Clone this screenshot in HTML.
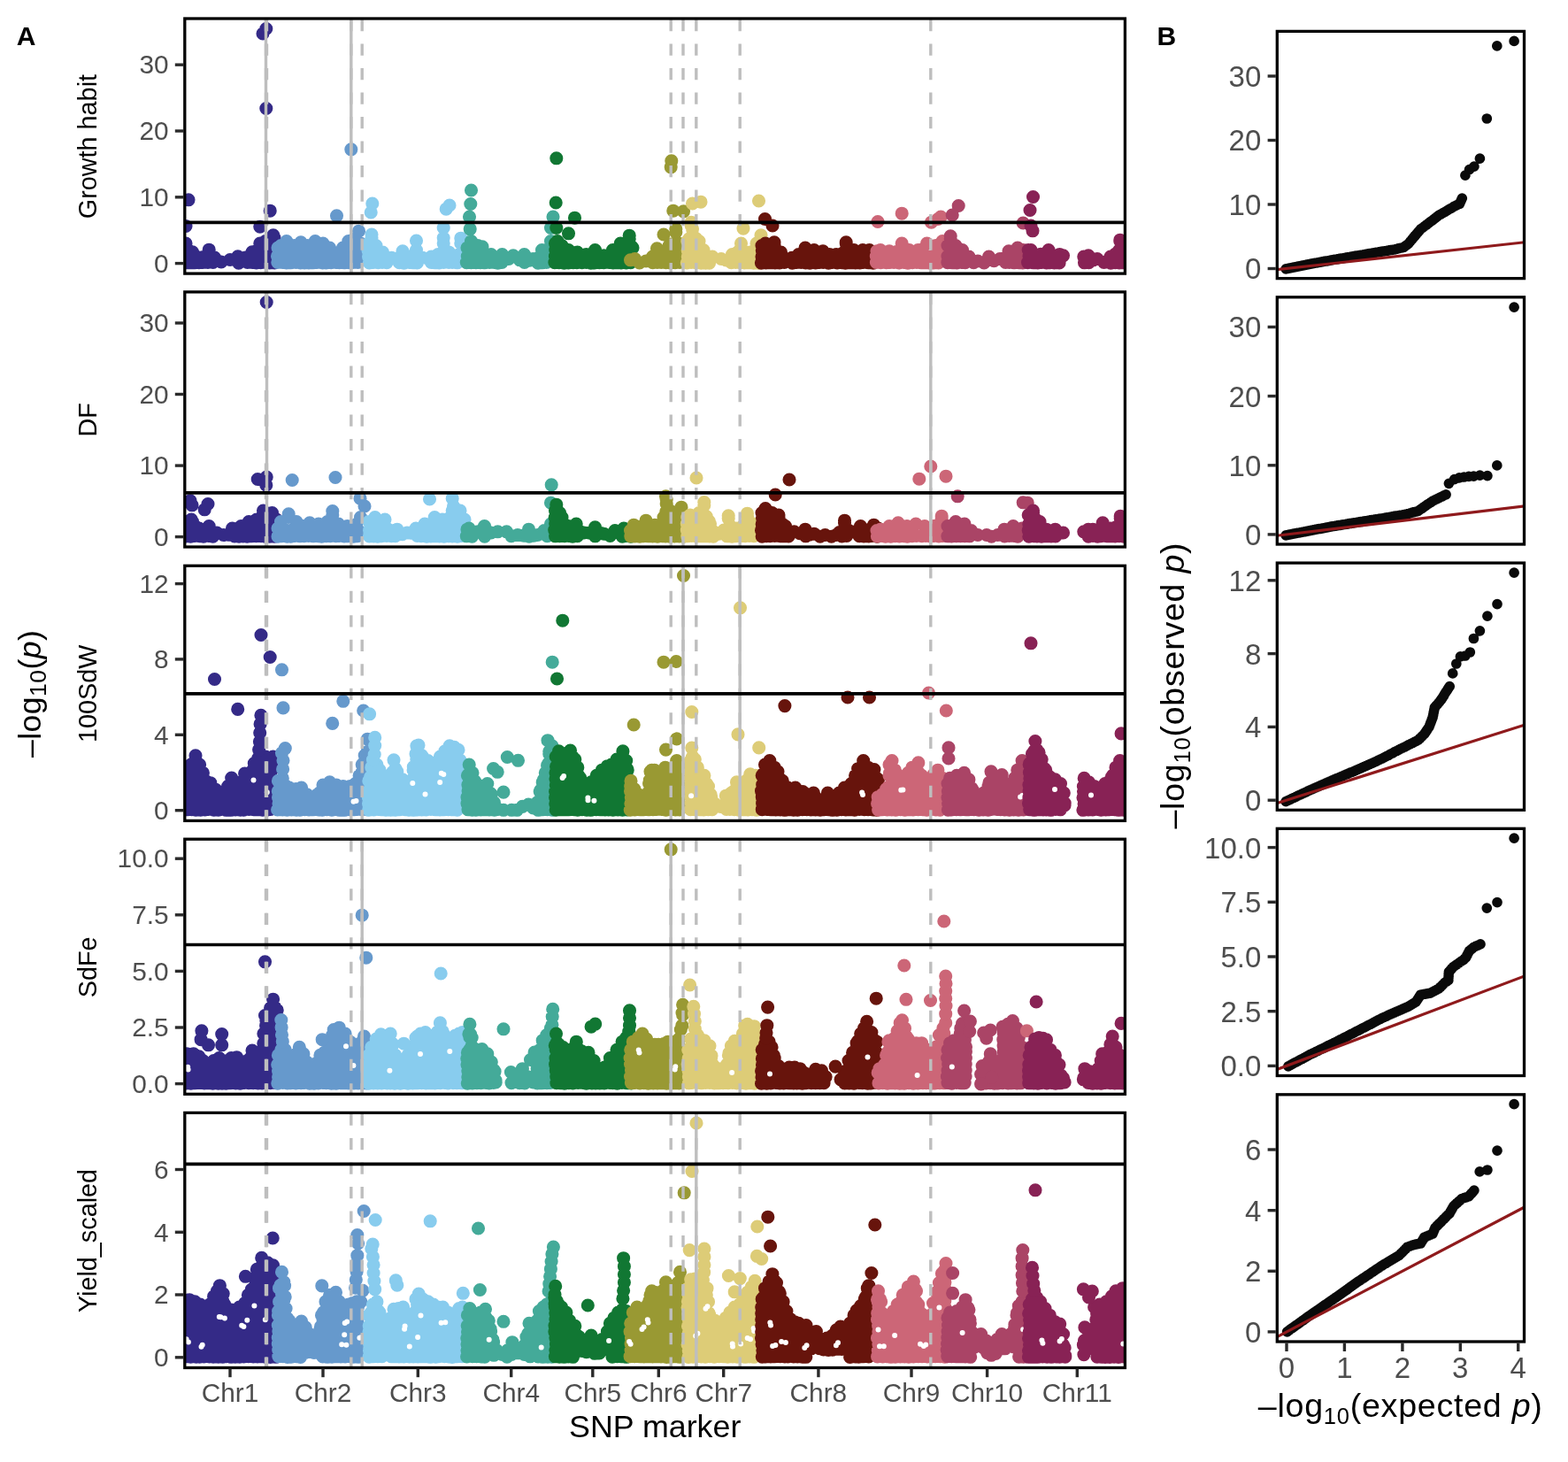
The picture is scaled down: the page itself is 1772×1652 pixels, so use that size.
<!DOCTYPE html>
<html lang="en"><head><meta charset="utf-8"><title>GWAS Manhattan and QQ plots</title>
<style>html,body{margin:0;padding:0;background:#fff}body{width:1772px;height:1652px;overflow:hidden}svg{display:block}text{font-family:"Liberation Sans", sans-serif}.t{font-size:29.8px;fill:#4D4D4D}.u{font-size:33px;fill:#4D4D4D}.s{font-size:28.8px;fill:#000}.a{font-size:35.6px;fill:#000;letter-spacing:.45px}.e{font-size:37.6px;fill:#000;letter-spacing:.75px}.n{font-size:35.8px;fill:#000}.b{font-size:30px;font-weight:bold;fill:#000}.k{stroke:#2b2b2b;stroke-width:3.4}.v{stroke:#BEBEBE;stroke-width:3.4;fill:none}.d{stroke-dasharray:13.3 14.2;stroke-dashoffset:-1}.h{stroke:#000;stroke-width:3.6}.f{fill:none;stroke:#000;stroke-width:3.3}.m{fill:none;stroke-linecap:round;stroke-width:15.1}.q{fill:none;stroke-linecap:round;stroke-width:11.7;stroke:#0a0a0a}
.c0{stroke:#342A87}
.c1{stroke:#6699CC}
.c2{stroke:#88CCEE}
.c3{stroke:#44AA99}
.c4{stroke:#117733}
.c5{stroke:#999933}
.c6{stroke:#DDCC77}
.c7{stroke:#67140C}
.c8{stroke:#CC6677}
.c9{stroke:#AA4466}
.c10{stroke:#882255}
.w{stroke:#fff;stroke-width:6}.r{stroke:#8F1A1C;stroke-width:3.2}
</style></head><body>
<svg width="1772" height="1652" viewBox="0 0 1772 1652">
<rect width="1772" height="1652" fill="#fff"/>
<defs>
<clipPath id="m0"><rect x="208.8" y="21" width="1062.6" height="288.1"/></clipPath>
<clipPath id="q0"><rect x="1443.3" y="35.4" width="279.2" height="279.2"/></clipPath>
<clipPath id="m1"><rect x="208.8" y="329.9" width="1062.6" height="288.1"/></clipPath>
<clipPath id="q1"><rect x="1443.3" y="335.8" width="279.2" height="279.2"/></clipPath>
<clipPath id="m2"><rect x="208.8" y="639.3" width="1062.6" height="288.1"/></clipPath>
<clipPath id="q2"><rect x="1443.3" y="636.1" width="279.2" height="279.2"/></clipPath>
<clipPath id="m3"><rect x="208.8" y="948.2" width="1062.6" height="288.1"/></clipPath>
<clipPath id="q3"><rect x="1443.3" y="936.3" width="279.2" height="279.2"/></clipPath>
<clipPath id="m4"><rect x="208.8" y="1257.4" width="1062.6" height="288.1"/></clipPath>
<clipPath id="q4"><rect x="1443.3" y="1236.8" width="279.2" height="279.2"/></clipPath>
</defs>
<text class="b" x="18.8" y="50.8">A</text>
<text class="b" x="1307.5" y="50.8">B</text>
<g clip-path="url(#m0)">
<g class="m">
<path class="c0" d="M209.5 296.8h0m0.8-7h0m-0.7-7h0m4.7 14h0m1.5-7h0m4.1 7h0m5-0.2h0m4.3-0.2h0m5.7 0.1h0m5.8 0h0m29 0.6h0m10-0.6h0m5.4 0h0m4.6 0.5h0m0-7h0m4.9 6.6h0m0.6-7h0m0.4-7h0m4.1 13.9h0m0.2-7h0m0.1-7h0m4.7 14.4h0m1.1-7h0m-1.6-7h0m6 14.1h0m-0.9-7h0m0.4-7h0m0.8-7h0m-100.5-1h0m4.4 8.9h0m3.1 0.9h0m7.5 6.2h0m4.7-0.5h0m6.5-8.3h0m3.1 7.9h0m3.2 0.9h0m7.5 5h0m10-2.5h0m8.8-3.7h0m8.7 1.2h0m7.5-6.2h0m5.5-1.8h0m3.3-8h0m6.2-2.5h0m5.4 1.2h0m4.6-4.9h0m-9.2-236.3h0m-3.8 5.5h0m3.8 84.5h0m-87.8 103.3h0m92.2 12.4h0m-11.4 18h0m-83.8-0.7h0m98.8 10.3h0"/>
<path class="c1" d="M313.8 296.4h0m-0.3-7h0m5.7 7h0m-0.2-7h0m4.8 7.5h0m-0.1-7h0m0.7-7h0m4.1 13.9h0m1.1-7h0m5 6.7h0m0.1-7h0m4.9 7.5h0m-0.2-7h0m-0.5-7h0m5.2 13.9h0m0-7h0m4.9 7.1h0m0.7-7h0m4.1 6.8h0m0.9-7h0m0.1-7h0m3.5 13.6h0m1.3-7h0m-1.1-7h0m6.1 14.5h0m-1.2-7h0m0-7h0m5.1 14h0m0.2-7h0m5.5 6.7h0m-0.7-7h0m6.2 6.9h0m3.8 0.2h0m5.8 0.1h0m-0.8-7h0m5.7 6.9h0m-0.6-7h0m-0.2-7h0m5.6 13.8h0m-0.1-7h0m0.1-7h0m5.5 14h0m-0.6-7h0m0.5-7h0m-90.4-2.5h0m3.5-2.5h0m6.3-5h0m8.7 5h0m7.5-3.7h0m7.5 3.7h0m8.7-5h0m8.8 2.5h0m7.5 5h0m7.5 6.2h0m7.5-6.2h0m6.3-7.5h0m6.2-2.5h0m7.5 5h0m-10.7-106.2h0m-16.3 75h0m25 17.4h0"/>
<path class="c2" d="M417.3 297h0m-0.8-7h0m-0.5-7h0m5.9 13.4h0m0.2-7h0m-0.9-7h0m6.2 14.3h0m-1.2-7h0m5.7 6.7h0m5.2 0.2h0m14.2 0.1h0m5.2 0.4h0m6-0.7h0m4.4 0.4h0m4.5 0.2h0m15.9-0.5h0m4.3 0.3h0m4.7 0.2h0m5.1-0.5h0m-0.3-7h0m1-7h0m5.2 14h0m3.9 0h0m5.5 0.3h0m-99.9-21.8h0m3.2-6.2h0m5 8.7h0m2.6 7.8h0m4.9-0.3h0m3.9 7.7h0m6.1-1.5h0m7.4 0.7h0m5.1-8.1h0m7.5 6.2h0m4.9 0h0m3.1-7.5h0m2.5 8.2h0m4.5 0.5h0m10-1.2h0m7.5-2.5h0m4.3-1.7h0m1.9-10.8h0m2.5 8.4h0m3.8 1.6h0m7.5 5h0m3.8-2.4h0m2-12.6h0m-100-45h0m-1.6 10h0m88.8-8h0m-3.8 4.2h0m-3 21.3h0m0 11.3h0m-30.7 3.2h0m50.3-2.8h0m-100.8-4.2h0"/>
<path class="c3" d="M527.3 296.6h0m1-7h0m4.2 7.1h0m0.3-7h0m0.6-7h0m4.5 13.9h0m0.4-7h0m4.6 7h0m0.7-7h0m3.9 7.2h0m1.1-7h0m4.7 6.7h0m5.2 0h0m4.1 0.6h0m4.6-0.6h0m25.5-0.1h0m15.3 0.7h0m4.8-0.3h0m-0.4-7h0m5.1 6.6h0m0.4-7h0m-89.9-9.4h0m4.5-7.5h0m7.5 5h0m5 1.3h0m5 8.7h0m5 0h0m6.7 4.2h0m5.8-4.2h0m7.5 5h0m5-3.7h0m7.5 5h0m5-6.3h0m6.1 6.6h0m3.9-1.6h0m5.7-1h0m4.3-9h0m5.8 0h0m4.2-10h0m-90-57.5h0m-0.7 15.5h0m-1.3 14.5h0m0.7 13.8h0m93.8-13.8h0m-2.5 12.5h0"/>
<path class="c4" d="M626.9 296.6h0m0.5-7h0m0.4-7h0m4 14h0m0.6-7h0m0.1-7h0m5 14.5h0m0.7-7h0m4.1 6.9h0m-0.2-7h0m5.7 6.7h0m4.1-0.1h0m5.8 0h0m5-0.2h0m5.1 0.7h0m4-0.2h0m1.1-7h0m4.5 6.8h0m5 0h0m5.9-0.2h0m4.6 0.4h0m0.2-7h0m5 6.9h0m-0.4-7h0m4.2 7.1h0m-0.1-7h0m0.5-7h0m5.4 14h0m-0.1-7h0m0.1-7h0m5 13.7h0m0.6-7h0m-0.8-7h0m-85-7.6h0m2.5-2.5h0m5 5h0m7.5 5h0m10 2.5h0m10 2.5h0m4.8 0h0m5.2-5h0m5.4 6.2h0m4.6 0.1h0m4.6 0.5h0m5.4-6.8h0m4.2-0.2h0m4.5-7.3h0m6.2 0.9h0m3.8-5.9h0m3 9.1h0m0.8 0.9h0m-86.2-101.2h0m-0.6 50.2h0m21.3 17.2h0m-20.7 11.3h0m13.7 6.3h0m68.7 2.4h0"/>
<path class="c5" d="M737.7 296.7h0m5.1-0.3h0m0.2-7h0m4.3 7.1h0m5.3 0.1h0m4.9 0.3h0m0.7-7h0m-0.3-7h0m5.1 13.8h0m-0.8-7h0m-0.2-7h0m1.1-7h0m5 20.7h0m-0.7-7h0m0.6-7h0m-55.5 11.4h0m5-1.3h0m5.2 4.4h0m7.3-1.9h0m7.5-5h0m5-6.2h0m7.5 6.2h0m2.5-1.7h0m3.7-10.8h0m3.3-1.8h0m4.3-13.2h0m3.7 12.7h0m2.5 2.3h0m-11.2-95.7h0m-0.6 7h0m2.6 49.4h0m11.7 0.6h0m-8.7 20h0m-13.8 6.2h0m-7.5 15.8h0"/>
<path class="c6" d="M776.3 297h0m1-7h0m-0.1-7h0m3.9 13.5h0m0-7h0m1.1-7h0m0.1-7h0m-1-7h0m4.8 28.1h0m0.5-7h0m-0.2-7h0m1.1-7h0m4.9 21.5h0m-0.6-7h0m5.7 7h0m4.1 0h0m24.9-0.5h0m5-0.2h0m4.5 0.2h0m0.7-7h0m-0.7-7h0m5.4 14.3h0m0.7-7h0m5 6.9h0m4.7 0.3h0m-0.5-7h0m5.8 7h0m-0.4-7h0m-0.5-7h0m-79.4-10.6h0m2.2-2.8h0m2.2-14.7h0m5.4 14.6h0m3.4 2.9h0m1.5 8.1h0m3.5 1.9h0m4.3 7.2h0m5.7 0.3h0m10 2.5h0m5.6 1.5h0m6.9-6.5h0m5-1.6h0m5-10.9h0m4.3 10.1h0m5.7-0.1h0m3.9-1.2h0m3.6-8.8h0m5-6.2h0m-68-40.6h0m-9.5 1.8h0m75-3h0m-76.3 24.2h0m1.3 7.6h0m57.5-0.6h0m20 7.6h0"/>
<path class="c7" d="M860.4 297.1h0m0.6-7h0m0.3-7h0m4.3 13.8h0m0-7h0m-0.3-7h0m5.9 13.9h0m0-7h0m4.7 7.1h0m-0.4-7h0m5.4 7h0m5.4-0.4h0m9 0.6h0m5-0.6h0m5.1-0.1h0m5.1 0.5h0m0.4-7h0m4.3 7.2h0m0.6-7h0m5.8 6.9h0m-0.7-7h0m5.2 6.5h0m4.2 0h0m6 0.6h0m4.4-0.7h0m5.4 0.5h0m5.3-0.2h0m4 0.4h0m0.3-7h0m-0.1-7h0m5.4 13.7h0m0.5-7h0m5.2 7.2h0m-0.1-7h0m5.1 6.9h0m3.7-0.4h0m0.5-7h0m5.7 7.3h0m-0.1-7h0m5.3 7.3h0m-125.8-19.6h0m4-2.5h0m10 1.2h0m4.2 7.8h0m3.3 1h0m5.5 7.9h0m7-1.7h0m7.5-3.7h0m3.5-0.9h0m4-6.6h0m10 2.5h0m10 1.3h0m7.5 3.7h0m7.5 0h0m6.2-0.7h0m5-11.8h0m4.6 7.7h0m4.2-0.2h0m10 0h0m7.5 0h0m7.5 2.5h0m-125.5-37.5h0m8.5 7.5h0m2 18.8h0m81.2 0h0"/>
<path class="c8" d="M990.4 296.5h0m-0.1-7h0m5.1 7.2h0m0.5-7h0m5.7 7h0m4.3-0.2h0m4.3 0h0m0.5-7h0m5.3 7.5h0m0.6-7h0m4.9 6.4h0m-0.4-7h0m4.9 7.7h0m0.3-7h0m4.8 6.6h0m5-0.2h0m-0.5-7h0m5.4 7.3h0m-0.7-7h0m5.7 7h0m0.5-7h0m4.7 7.3h0m0.4-7h0m3.7 6.9h0m0.7-7h0m4.6 6.9h0m0.5-7h0m0.4-7h0m-70.5 0.9h0m4-1.3h0m10 1.3h0m8.1 0.8h0m6.1-9.6h0m4.6 7.2h0m3.7 0.3h0m10 0h0m4.7-0.4h0m5.3-7.1h0m10 2.5h0m7.5-5h0m-73-22h0m27.2-9.3h0m33.3 10h0m10.7-6.2h0m-3.2 2.5h0"/>
<path class="c9" d="M1070.9 296.6h0m0.1-7h0m5.2 7.2h0m-0.1-7h0m-0.6-7h0m5.9 14.1h0m-0.1-7h0m5.4 6.6h0m-1.1-7h0m5.2 7.2h0m45.6-0.3h0m4.2 0.1h0m5.5 0.3h0m-0.9-7h0m6.2 6.9h0m-0.6-7h0m4.9 7.2h0m-0.1-7h0m-84.6-12.4h0m3.2-7.5h0m5.8 7.5h0m7.5 5h0m4.4 7.6h0m3.1-0.1h0m5.3 6.7h0m4.7-1.7h0m7.1 1.9h0m5.4-6.9h0m5.8 4.7h0m6.7-2.2h0m4.2-0.5h0m5.8-8.2h0m5.4 0.5h0m4.6-4.3h0m6.2 2.5h0m-73-50h0m-7 10.5h0m-2 23.8h0m82-14.8h0"/>
<path class="c10" d="M1161.5 296.6h0m1.5-7h0m4.8 7.2h0m-1.1-7h0m6.1 7.1h0m4.5-0.5h0m5.4 0.6h0m4.1-0.3h0m4.7 0.2h0m5.6 0.1h0m-34.9-14.5h0m2.8 0h0m11.2 4.8h0m8.8-4.8h0m6.4 6.5h0m6.1-1.5h0m4 1.3h0m24 8h0m5-0.2h0m24.8 0.5h0m5.1-0.4h0m4.6 0.3h0m0.5-7h0m-0.9-7h0m5.1 13.8h0m0.5-7h0m-1.1-7h0m-44.3 7.2h0m5.2-1.2h0m5.5 5.2h0m4.5-1.5h0m7.6 3.9h0m7.4-6.4h0m5.2-2.7h0m5.6-14.8h0m5.4 0h0m-103.7-50h0m-3.5 15h0m3 23.3h0m-2-5.8h0m100.8 16.2h0"/>
</g>
<line class="v d" x1="300.5" x2="300.5" y1="21" y2="309.1"/>
<line class="v d" x1="301.5" x2="301.5" y1="21" y2="309.1"/>
<line class="v d" x1="396.8" x2="396.8" y1="21" y2="309.1"/>
<line class="v d" x1="409.2" x2="409.2" y1="21" y2="309.1"/>
<line class="v d" x1="758.2" x2="758.2" y1="21" y2="309.1"/>
<line class="v d" x1="772" x2="772" y1="21" y2="309.1"/>
<line class="v d" x1="786.8" x2="786.8" y1="21" y2="309.1"/>
<line class="v d" x1="836.2" x2="836.2" y1="21" y2="309.1"/>
<line class="v d" x1="1051.8" x2="1051.8" y1="21" y2="309.1"/>
<line class="v" x1="300.5" x2="300.5" y1="21" y2="309.1"/>
<line class="v" x1="396.8" x2="396.8" y1="21" y2="309.1"/>
<line class="h" x1="208.8" x2="1271.4" y1="251.4" y2="251.4"/>
</g>
<rect class="f" x="208.8" y="21" width="1062.6" height="288.1"/>
<line class="k" x1="197.8" x2="207.3" y1="297.6" y2="297.6"/>
<text class="t" text-anchor="end" x="190.6" y="307.8">0</text>
<line class="k" x1="197.8" x2="207.3" y1="222.8" y2="222.8"/>
<text class="t" text-anchor="end" x="190.6" y="233">10</text>
<line class="k" x1="197.8" x2="207.3" y1="148" y2="148"/>
<text class="t" text-anchor="end" x="190.6" y="158.2">20</text>
<line class="k" x1="197.8" x2="207.3" y1="73.2" y2="73.2"/>
<text class="t" text-anchor="end" x="190.6" y="83.4">30</text>
<text class="s" text-anchor="middle" transform="translate(108.8 165.6) rotate(-90)">Growth habit</text>
<g clip-path="url(#m1)">
<g class="m">
<path class="c0" d="M210.1 605.9h0m0.1-7h0m5.2 7.3h0m-0.1-7h0m5 6.3h0m5.1 0.2h0m4.6 0.4h0m5.7-0.6h0m4.9 0.7h0m24.5-0.2h0m5 0.2h0m4.6-0.3h0m4.6 0.2h0m1.3-7h0m3.6 6.7h0m0.9-7h0m4.4 6.8h0m1.2-7h0m4.4 7h0m0.7-7h0m-1.3-7h0m5.3 14.6h0m-0.3-7h0m1.2-7h0m4.1 14h0m0.8-7h0m-1.3-7h0m5.7 14h0m-0.2-7h0m-0.6-7h0m-99.2-2.7h0m7.5 0h0m4.5 6.2h0m3 1.3h0m6.2 3h0m5-5.5h0m3.4 8.1h0m5.4-0.6h0m7.5 2.5h0m5.7-0.2h0m4.3-7.3h0m10-2.5h0m8.7-5h0m8.8-2.5h0m3.4-0.1h0m4.1-7.4h0m10 2.5h0m5 5h0m-11.3-245.5h0m-10 200h0m10-2.5h0m-0.4 9.2h0m-85.8 17.6h0m2 5h0m18-1.3h0m-3.8 6.3h0m66.3 1.2h0m10 2.5h0m-91.3 7.5h0"/>
<path class="c1" d="M314 606.2h0m4.6-0.5h0m0.9-7h0m5.1 7.5h0m-1-7h0m4.9 7h0m0.6-7h0m4.3 6.3h0m0.8-7h0m4.8 7.3h0m4.6-0.2h0m5.1-0.1h0m0.1-7h0m5.3 7.3h0m5.4-0.1h0m0.2-7h0m3.8 7.4h0m0.9-7h0m4.2 6.5h0m1-7h0m3.7 7h0m0.1-7h0m0-7h0m6.2 14h0m-1-7h0m4.9 6.9h0m5.5 0.4h0m4.4-0.1h0m6.2 0.4h0m4.4-0.6h0m0.3-7h0m-90.3-1.6h0m3.5-7.5h0m8.7-5h0m8.8 5h0m7.5 5h0m7.5-3.7h0m10 1.2h0m10-2.5h0m5.8-7.5h0m3.7 9.3h0m3 0.7h0m10 2.5h0m7.5 0h0m2.7-2h0m4.8-8h0m-77.3-42h0m48.8-3h0m28 23.7h0m5 8.8h0m-36.2 5.5h0m-49.6 3.3h0"/>
<path class="c2" d="M417.4 606h0m0.1-7h0m4.9 6.9h0m-0.8-7h0m5.2 7.2h0m0.6-7h0m3.9 6.6h0m-0.2-7h0m5.9 6.8h0m-0.1-7h0m5.5 7.2h0m4.3-0.1h0m24.9-0.1h0m4.4 0.1h0m6.3 0.6h0m-0.5-7h0m5.1 6.8h0m-0.4-7h0m5.9 6.8h0m-0.6-7h0m0.3-7h0m4.5 14.1h0m0.3-7h0m4.9 7.2h0m0.6-7h0m4.1 6.6h0m-0.4-7h0m-0.1-7h0m5.3 14.2h0m0.3-7h0m-0.3-7h0m0.8-7h0m4.9 21.3h0m-0.4-7h0m0.5-7h0m4.6 13.3h0m-0.6-7h0m0.6-7h0m-104.9-2h0m7-5h0m6.3 3.9h0m4.9-1.4h0m3.1 10.9h0m4.4 1.6h0m6.3-1.3h0m5.9 5.4h0m5.3-1.6h0m4.1 0.1h0m5.9-5.1h0m4.5 1.2h0m5.5-6.2h0m5.5 0.5h0m5.7-8h0m8.8 2.5h0m6.6-0.7h0m4.6-9.3h0m8.8 5h0m5 5h0m-39.5-23h0m25.7-0.8h0m1.3 8.8h0m7.5 5h0"/>
<path class="c3" d="M527.3 605.8h0m6.2 0.3h0m14.2 0h0m50.3 0.1h0m20.4-0.6h0m-90.4-7.4h0m2-1.2h0m5.9 5.2h0m4.1-1.4h0m7.5-6.3h0m4 6.2h0m3.5 1.3h0m7.5-1.2h0m10 0h0m5.3 4.8h0m7.2-1.1h0m6.8 0.6h0m5.7-6.9h0m5.9 7h0m4.1-0.7h0m7.5-5h0m2.7 0.6h0m4.8-8.1h0m0.7-44.2h0m-0.7 20.4h0"/>
<path class="c4" d="M627.6 605.8h0m-0.9-7h0m1-7h0m-0.5-7h0m5.2 20.8h0m-0.7-7h0m0.9-7h0m5.3 14.1h0m0.3-7h0m4.2 6.8h0m4.7 0.7h0m5.4-0.5h0m20.1 0.1h0m30.7 0.3h0m4.3-0.6h0m5.2 0.7h0m-85.3-29.2h0m1.3-3.8h0m2.6 10.1h0m3.6 1.2h0m4 8.7h0m3.5 1.3h0m8.7-2.5h0m3.3 8.1h0m5.5 1.9h0m6.6 0.1h0m5.9-6.3h0m5.9 6.6h0m4.1 0.8h0m7 2.2h0m5.5-5.9h0m10-2.5h0m7.5 2.5h0m-83.7-29.3h0m3.7 9.3h0"/>
<path class="c5" d="M712.8 605.8h0m4.6 0.1h0m5.5 0.2h0m4.5-0.5h0m-0.6-7h0m5.6 7.2h0m0.9-7h0m4.2 7.1h0m5.6 0.2h0m-1.3-7h0m6.4 6.5h0m-0.8-7h0m4.7 7.4h0m-0.3-7h0m1.1-7h0m-0.9-7h0m0.8-7h0m4.3 28.1h0m0.3-7h0m0.4-7h0m0.2-7h0m4.2 20.8h0m1-7h0m-0.1-7h0m4.5 14.1h0m-0.8-7h0m0-7h0m1.4-7h0m4 21.2h0m-0.2-7h0m-0.3-7h0m-59.2 7.3h0m3.7-6.3h0m5.9 2.3h0m7.9-7.3h0m5.2 6.5h0m4.8-1.5h0m5.7 0.5h0m4.3-9.2h0m2.8-4.1h0m0.4-15.9h0m4 12.5h0m2.8 2.5h0m10-2.5h0m3.8 7.5h0m-21.3-23.7h0m0.7 8.7h0m16.8 3.7h0"/>
<path class="c6" d="M776.8 605.8h0m-0.5-7h0m0-7h0m5.3 13.7h0m-0.5-7h0m0.1-7h0m5.9 14.5h0m-0.8-7h0m-0.2-7h0m5.7 13.8h0m0.3-7h0m0.2-7h0m0-7h0m4.8 21h0m0-7h0m-0.1-7h0m-1-7h0m5.8 21.1h0m0.5-7h0m3.9 7.3h0m15.4-0.4h0m0.2-7h0m5.4 7.4h0m-0.6-7h0m4.5 6.6h0m5.9-0.2h0m5.1 0.1h0m-0.3-7h0m4.9 6.8h0m-0.2-7h0m5.5 7.1h0m0-7h0m-75.2-14.1h0m3.2-2.5h0m10-2.5h0m5.8-8.7h0m2.4 12.7h0m3.2 5.6h0m1.1 2.9h0m4.4 9h0m5.6 2.2h0m5.6-4.1h0m5.1-13.3h0m3.9 10.1h0m5.4 1.1h0m7-2.6h0m5-11.2h0m5.2 8.4h0m5.3 0.4h0m-68-52h0m8.8 27.5h0m27.4 15.3h0m21.3-2.6h0"/>
<path class="c7" d="M861.2 606.2h0m-0.7-7h0m0.7-7h0m0.3-7h0m4.7 20.4h0m-0.5-7h0m0.8-7h0m-1.1-7h0m4.9 21h0m1.3-7h0m-0.3-7h0m4.2 13.9h0m1-7h0m-0.7-7h0m5.7 14.1h0m-0.8-7h0m4.9 7.2h0m5.5 0.2h0m19.5-0.2h0m40.8 0.2h0m5.4-0.5h0m14.4 0.2h0m5 0.3h0m5.5 0h0m3.7-0.5h0m5.9 0.7h0m-130.3-26.7h0m4-2.5h0m7.5 2.5h0m7.5 5h0m4.3 7.9h0m3.2 2.1h0m4.2 7.4h0m5.8-1.1h0m6.4 1.9h0m6.1-4.5h0m4.6 5.9h0m5.4-0.9h0m6.8 3h0m5.7-1.7h0m7.1 1.7h0m5.4-1.7h0m3.6-2.9h0m5.9-10.8h0m4.9 8.7h0m3.1 1.3h0m5.3 0.3h0m4.7-6.6h0m7.6 4.6h0m7.4-5.9h0m5 3.8h0m-100.5-55h0m-15.8 17h0m-11.2 15.5h0m15 7.5h0m74.5 6.2h0"/>
<path class="c8" d="M991.4 606h0m5.3-0.5h0m4 0.6h0m5.9 0h0m4.9-0.5h0m4.9 0.3h0m0-7h0m4.9 6.8h0m4.1 0.4h0m5.3-0.5h0m4.9-0.1h0m6.2 0.1h0m4.5-0.1h0m5.1 0.4h0m4.2-0.4h0m5.4 0.4h0m0.1-7h0m4.5 6.6h0m0.5-7h0m-75.1 1h0m4-1.3h0m5.1 1.8h0m4.9-5.5h0m3.9 2.1h0m6.1-5.8h0m5.1 5.7h0m4.9-2h0m10-2.5h0m10 2.5h0m10 0h0m4.9-1.1h0m4.3-7.6h0m5.8 8.7h0m-31.2-53.3h0m13-14.2h0m17.2 11.2h0m-4.8 45h0"/>
<path class="c9" d="M1070.9 605.8h0m4.4 0.1h0m5.4-0.2h0m0.3-7h0m4.5 6.9h0m4.8 0.1h0m5.4 0.1h0m39.6 0.2h0m5.2-0.5h0m5.5 0h0m4.2 0.6h0m-79.2-11.6h0m9-5h0m10 2.5h0m3.1 6.1h0m4.4 1.4h0m7.5 5h0m10 0h0m5.5 1.7h0m7-1.7h0m7.5-6.3h0m4.1 2.2h0m5.9-5.9h0m10 2.5h0m-72.8-36.2h0m74 7h0m5 0.4h0"/>
<path class="c10" d="M1162.8 606.2h0m-0.6-7h0m0.6-7h0m5.2 13.5h0m-0.3-7h0m-0.5-7h0m4.8 14.3h0m0.9-7h0m4.1 7.1h0m5.6-0.3h0m5.3 0.2h0m4.9-0.1h0m-30.6-23.9h0m5.3-2.5h0m4.5 8.6h0m3 1.4h0m3.5 8.3h0m4 0.4h0m10 0h0m9 3.8h0m28.5 4.1h0m5.2-0.6h0m5.2 0.7h0m3.9-0.6h0m0.7-7h0m5.5 7.1h0m4.1 0.1h0m5.6 0.2h0m4.5-0.3h0m0.2-7h0m5.4 7.4h0m-0.8-7h0m-44.7 1.7h0m5.2-2.6h0m5 0h0m5.2 0.3h0m6-7.7h0m5.5 6.4h0m3.3-0.2h0m6.1-1.1h0m5.1-10.1h0m5 0h0m-103.7-8.8h0m98.7 6.2h0"/>
</g>
<line class="v d" x1="300.5" x2="300.5" y1="329.9" y2="618"/>
<line class="v d" x1="301.5" x2="301.5" y1="329.9" y2="618"/>
<line class="v d" x1="396.8" x2="396.8" y1="329.9" y2="618"/>
<line class="v d" x1="409.2" x2="409.2" y1="329.9" y2="618"/>
<line class="v d" x1="758.2" x2="758.2" y1="329.9" y2="618"/>
<line class="v d" x1="772" x2="772" y1="329.9" y2="618"/>
<line class="v d" x1="786.8" x2="786.8" y1="329.9" y2="618"/>
<line class="v d" x1="836.2" x2="836.2" y1="329.9" y2="618"/>
<line class="v d" x1="1051.8" x2="1051.8" y1="329.9" y2="618"/>
<line class="v" x1="301.5" x2="301.5" y1="329.9" y2="618"/>
<line class="v" x1="1051.8" x2="1051.8" y1="329.9" y2="618"/>
<line class="h" x1="208.8" x2="1271.4" y1="556.9" y2="556.9"/>
</g>
<rect class="f" x="208.8" y="329.9" width="1062.6" height="288.1"/>
<line class="k" x1="197.8" x2="207.3" y1="606.6" y2="606.6"/>
<text class="t" text-anchor="end" x="190.6" y="616.9">0</text>
<line class="k" x1="197.8" x2="207.3" y1="526.1" y2="526.1"/>
<text class="t" text-anchor="end" x="190.6" y="536.3">10</text>
<line class="k" x1="197.8" x2="207.3" y1="445.5" y2="445.5"/>
<text class="t" text-anchor="end" x="190.6" y="455.7">20</text>
<line class="k" x1="197.8" x2="207.3" y1="365" y2="365"/>
<text class="t" text-anchor="end" x="190.6" y="375.2">30</text>
<text class="s" text-anchor="middle" transform="translate(108.8 474.4) rotate(-90)">DF</text>
<g clip-path="url(#m2)">
<g class="m">
<path class="c0" d="M211.5 914.8h0m-0.9-7h0m0.4-7h0m0.3-7h0m0.5-7h0m-1.1-7h0m6 34.8h0m-0.6-7h0m0.1-7h0m0.6-7h0m-0.8-7h0m-0.2-7h0m0.8-7h0m4.8 42.6h0m-0.1-7h0m-0.4-7h0m0.9-7h0m-0.5-7h0m-0.8-7h0m0.5-7h0m0.8-7h0m4.8 49h0m-0.4-7h0m0.4-7h0m0.2-7h0m-1.4-7h0m0.6-7h0m0.1-7h0m5.5 41.7h0m-1.2-7h0m0.2-7h0m0.9-7h0m0.1-7h0m3.8 27.6h0m1.2-7h0m-1.3-7h0m1.3-7h0m5.2 21.6h0m-0.5-7h0m-0.2-7h0m5.6 14.1h0m-0.8-7h0m4.4 6.3h0m0.7-7h0m4.7 7.8h0m1.1-7h0m-1-7h0m5.1 14h0m0.5-7h0m0-7h0m0.2-7h0m-1.1-7h0m5.5 27.6h0m0-7h0m0.3-7h0m5.4 14.3h0m-0.1-7h0m-0.4-7h0m4.1 13.9h0m0.9-7h0m0.6-7h0m0-7h0m-0.2-7h0m4.8 27.4h0m-0.6-7h0m0.7-7h0m0-7h0m-0.1-7h0m5.2 28.2h0m0.2-7h0m-0.9-7h0m0.8-7h0m-1.3-7h0m1-7h0m4.4 35.1h0m0.4-7h0m-0.3-7h0m0.6-7h0m-0.2-7h0m0.1-7h0m0.2-7h0m-0.9-7h0m6 49.4h0m-0.1-7h0m-0.9-7h0m-0.1-7h0m1-7h0m-1-7h0m0.3-7h0m-0.2-7h0m5.6 49h0m0.2-7h0m-0.5-7h0m0.4-7h0m-0.6-7h0m-0.2-7h0m0.5-7h0m-0.6-7h0m5.2 48.3h0m0.9-7h0m-0.7-7h0m0.3-7h0m-0.5-7h0m0-7h0m0.3-7h0m0-7h0m-94.9 3.2h0m4.6-4.6h0m2.7-1.7h0m2.6-8.6h0m1.6 7.9h0m3 2.4h0m3.8 9.2h0m4.1 10.1h0m4.3 1.3h0m6.1 7.6h0m5.3 8.4h0m4.6-4.6h0m3.8-7.6h0m4.1-9.4h0m2.4 10.5h0m1.8 2h0m4.6 3h0m1.4-3.2h0m1.7-9h0m3-8.4h0m5.3 6.9h0m1.3-1.3h0m2.6-9.4h0m1.5-7.6h0m4.6-6.1h0m4.5-1.5h0m3.8 0h0m8.4 0h0m0.6 9.9h0m0.9 2.3h0"/>
<path class="w" d="M301.8 895.2h0m-15.3-13.7h0"/>
<path class="c0" d="M268.7 801.4h0m26.2 6.9h0m-0.8 9.9h0m-0.4 9.9h0m-0.3 9.9h0m-0.8 9.1h0m2.4-129.6h0m10.2 25h0m-62.7 25h0"/>
<path class="c1" d="M313.6 915h0m1.4-7h0m-0.5-7h0m-0.2-7h0m5 20.9h0m0.6-7h0m-0.2-7h0m-0.4-7h0m-0.3-7h0m5.4 28.3h0m0.5-7h0m-1.2-7h0m5.7 13.7h0m-0.1-7h0m-0.6-7h0m6.3 14.3h0m-1.3-7h0m0.6-7h0m4.7 14h0m0.8-7h0m-0.3-7h0m4.9 13.4h0m-0.6-7h0m5.3 7.3h0m4.9-0.1h0m6.1 0.2h0m-1.2-7h0m5.3 7.2h0m-0.6-7h0m1.1-7h0m4.7 13.4h0m-0.5-7h0m0.6-7h0m0.2-7h0m5.3 21.6h0m-0.1-7h0m-0.4-7h0m0.1-7h0m4.1 20.3h0m0.5-7h0m0-7h0m-0.3-7h0m4.9 21.8h0m1.4-7h0m0-7h0m4.1 14h0m0.6-7h0m0.2-7h0m4.7 13.4h0m-1-7h0m0.5-7h0m5.7 14.1h0m-1.2-7h0m1.2-7h0m-1.3-7h0m5.2 20.7h0m0.1-7h0m-0.1-7h0m0.6-7h0m4.3 21.1h0m0.4-7h0m0.9-7h0m-0.5-7h0m0.3-7h0m0.1-7h0m-0.9-7h0m5.6 42h0m0.2-7h0m-0.9-7h0m0.6-7h0m-1-7h0m0.3-7h0m-0.3-7h0m1.2-7h0m-1-7h0m0.2-7h0m-99.6 30.8h0m4.9-3h0m3.1 8.3h0m4.5 2.3h0m7.6 1.6h0m6.1-1.6h0m6.1 7.7h0m4.5 7.6h0m3.1 0h0m4.6-7.6h0m2.3-1.8h0m3.8-8.9h0m7.6-3.1h0m7.6 3.1h0m7.6 1.5h0m7.7 0h0m6.1-3h0m4.5-9.2h0m2.6-1.9h0m0.5-10.3h0m1.6-1.7h0m1.4-8.9h0m2.7-3.6h0m0.4-14.7h0"/>
<path class="w" d="M399.5 905.7h0m3-0.8h0"/>
<path class="c1" d="M320 799.9h0m55.7 17.5h0m12.1-25.1h0m22.9 10.7h0m-88.4 42.6h0m-3.8 5.3h0m1.5 8.4h0m-0.4 9.9h0m-1.1-112.4h0"/>
<path class="c2" d="M416.7 915.1h0m-0.2-7h0m-0.2-7h0m-0.1-7h0m6.3 20.8h0m0-7h0m-1.3-7h0m-0.2-7h0m1.1-7h0m0.3-7h0m4.8 34.6h0m0.3-7h0m0.1-7h0m-0.8-7h0m-0.4-7h0m0.7-7h0m3.9 35.3h0m0.3-7h0m0.4-7h0m-0.2-7h0m-0.1-7h0m4.7 28.4h0m0.7-7h0m0.5-7h0m4.2 14h0m0.3-7h0m-0.7-7h0m0.6-7h0m5.1 20.9h0m0.7-7h0m-1.5-7h0m0.9-7h0m-0.7-7h0m0.5-7h0m4.5 34.7h0m0.9-7h0m-0.1-7h0m-1-7h0m0.2-7h0m6.4 27.8h0m-1.1-7h0m-0.2-7h0m0.9-7h0m4.9 21.5h0m0.1-7h0m0.2-7h0m0.2-7h0m4.7 21.2h0m-0.4-7h0m0.3-7h0m-0.3-7h0m0.5-7h0m-0.8-7h0m5 34.7h0m0.3-7h0m0.4-7h0m-0.9-7h0m0.9-7h0m-0.9-7h0m-0.3-7h0m1.3-7h0m0-7h0m4.2 55.9h0m-0.1-7h0m0.6-7h0m0.1-7h0m0.2-7h0m0.2-7h0m-0.5-7h0m0-7h0m4.4 49h0m0.6-7h0m-0.3-7h0m0-7h0m0.4-7h0m-0.6-7h0m0.9-7h0m-0.9-7h0m5.4 48.6h0m-0.5-7h0m0-7h0m0.1-7h0m0.5-7h0m0.2-7h0m-0.1-7h0m5 42.3h0m-0.8-7h0m0.1-7h0m0.3-7h0m-0.4-7h0m0.2-7h0m0.9-7h0m4.7 42.1h0m0.1-7h0m-0.1-7h0m-0.4-7h0m-0.3-7h0m0-7h0m0.6-7h0m-0.9-7h0m5.4 48.9h0m-0.1-7h0m-0.2-7h0m1.2-7h0m-0.2-7h0m-0.8-7h0m1.1-7h0m-1.5-7h0m0.3-7h0m5.2 55.9h0m0.9-7h0m-0.6-7h0m-0.7-7h0m0.4-7h0m0.5-7h0m-0.6-7h0m-0.5-7h0m1.4-7h0m-1.2-7h0m4.8 63.1h0m1.6-7h0m-0.2-7h0m0.1-7h0m-0.1-7h0m-1.1-7h0m0.6-7h0m0.4-7h0m-0.9-7h0m0-7h0m5.3 63.4h0m0.7-7h0m-1.4-7h0m0.9-7h0m0.2-7h0m-0.6-7h0m0.8-7h0m0-7h0m0-7h0m-100.5 23.2h0m1.6-4h0m1.4-11.2h0m6.1-3.1h0m3.1 6.1h0m3 7.7h0m1.9 9.7h0m2.7 0.9h0m3.8 1.5h0m2.3-3.4h0m0-10.3h0m0.9-3.8h0m1.4-13.7h0m1.9 9.7h0m1.9 3.3h0m2 8.4h0m4.1 0.7h0m4.6 7.6h0m4.5-3h0m0.9-3.6h0m2.2-11.7h0m0.2-3.6h0m3.5-8.7h0m0.1-15.1h0m-0.9 9.1h0m3-9.9h0m3.5 11.5h0m1.1 1.5h0m6.1 4.6h0m6.1 3h0m5-1h0m2.6-6.6h0m5.4-6.1h0m5.3-6.1h0m5.3 1.5h0m4.6 3.1h0m2 11.7h0m0.3 3.5h0"/>
<path class="w" d="M501.3 874.9h0m-2.5-1.2h0m-18.3 23.8h0m16.7-13.5h0m-30.9 0.9h0"/>
<path class="c2" d="M417.6 806.8h0m6.1 26.6h0m0 9.2h0m-0.5 9.9h0m-1.8 6.1h0"/>
<path class="c3" d="M529 914.8h0m-1-7h0m0-7h0m1.1-7h0m-0.2-7h0m4.7 28.4h0m0.4-7h0m-0.3-7h0m-0.9-7h0m0.5-7h0m0.5-7h0m4 34.9h0m1.1-7h0m-0.9-7h0m0.5-7h0m4.9 20.9h0m-0.8-7h0m0.7-7h0m4.9 13.8h0m0.1-7h0m0-7h0m0.5-7h0m4.1 21.2h0m1-7h0m-0.5-7h0m5.3 14.2h0m49.6 0.1h0m4.8-0.5h0m0-7h0m-0.4-7h0m1-7h0m4.9 20.9h0m-0.1-7h0m0.1-7h0m0.2-7h0m-0.5-7h0m-0.3-7h0m-0.2-7h0m6.3 42.5h0m-0.7-7h0m0.1-7h0m0.1-7h0m0-7h0m0.2-7h0m-0.8-7h0m0.6-7h0m0.3-7h0m-1.2-7h0m-94.3 24.1h0m1.5-1.9h0m0.3-10.3h0m3.8 9.2h0m2.7 9.6h0m1.9 2.6h0m6.1 3h0m6.1-3h0m3.1 10.7h0m1.4 1.5h0m3.1 9.1h0m4.5 7.6h0m6.1 0.9h0m9.2 0h0m6.1 0h0m6.1-3.9h0m6.8-2.3h0m5.4 3.8h0m4.5-6.1h0m2.4-1.8h0m0.7-10.4h0m0.5-1.6h0m2.5-9.1h0m1-2.6h0m2.1-8h0m2.3-8.4h0m1.2-2.2h0m1-10.8h0m0-2.8h0m-1.8-12.4h0m4.9 6.1h0m-66.3 25.7h0m4.6 3.8h0m11.1-16.8h0m12.2 3.8h0m-16.5 35.8h0m55.2-146.9h0"/>
<path class="c4" d="M628.2 915.2h0m-0.4-7h0m-0.2-7h0m0-7h0m0.7-7h0m-0.3-7h0m0-7h0m0.6-7h0m3.9 48.6h0m0.3-7h0m1.1-7h0m-0.1-7h0m-0.6-7h0m-0.5-7h0m-0.2-7h0m0.8-7h0m0.4-7h0m4 56h0m-0.2-7h0m0.4-7h0m0.3-7h0m0-7h0m-0.4-7h0m0.5-7h0m0.1-7h0m-0.2-7h0m4.5 56h0m-0.1-7h0m1-7h0m-0.9-7h0m1-7h0m0.2-7h0m-0.6-7h0m0.5-7h0m-0.7-7h0m5.6 55.8h0m-0.9-7h0m0.3-7h0m0.5-7h0m0.1-7h0m-0.1-7h0m0-7h0m0.2-7h0m4 49.5h0m-0.3-7h0m1.3-7h0m-0.2-7h0m0-7h0m-1-7h0m5.1 34.5h0m-0.3-7h0m0.2-7h0m0.8-7h0m4.7 21.5h0m-0.2-7h0m0.6-7h0m-0.5-7h0m4.5 21.2h0m0.9-7h0m-0.6-7h0m1.1-7h0m4.9 20.4h0m-0.8-7h0m0.3-7h0m0.5-7h0m-0.1-7h0m4.5 28.1h0m-0.4-7h0m-0.3-7h0m0.4-7h0m0-7h0m0.5-7h0m5.4 35.2h0m0-7h0m-0.3-7h0m-0.8-7h0m0.3-7h0m-0.3-7h0m5 35h0m1-7h0m-0.8-7h0m-0.2-7h0m1-7h0m-0.4-7h0m0.5-7h0m3.9 42.1h0m-0.3-7h0m0.7-7h0m0.7-7h0m-1.1-7h0m-0.2-7h0m0.4-7h0m5.4 41.9h0m0-7h0m-0.4-7h0m-0.2-7h0m0.1-7h0m0.2-7h0m-0.5-7h0m0.7-7h0m5.3 49.1h0m-0.9-7h0m0.1-7h0m1.2-7h0m-1.5-7h0m0.5-7h0m0.9-7h0m-1-7h0m0.7-7h0m5.2 55.9h0m-0.7-7h0m-0.5-7h0m0.6-7h0m0-7h0m-0.6-7h0m0.7-7h0m-80-18h0m3.3-6.1h0m6.1 3h0m6.9-3.8h0m2.9 7.5h0m2.4 2.4h0m3 9.2h0m1.1 9.4h0m2 2.8h0m4.6 7.6h0m7.6-3.1h0m6.1-7.6h0m6.1-6.1h0m6.1-4.5h0m4.5-1.6h0m6.1-6.1h0m3.5-0.9h0m3.4-8.2h0m1.6 9.1h0m2.2 1.6h0m0.8 9h0m0.7 1.6h0"/>
<path class="w" d="M637.1 877.1h0m-1.5 1.9h0m35.8 25.8h0m-7-3.4h0m0.1 2.9h0"/>
<path class="c4" d="M635.8 701.2h0m-6.3 65.8h0"/>
<path class="c5" d="M712.2 915.1h0m0.7-7h0m0.4-7h0m-0.8-7h0m4.9 20.9h0m-0.3-7h0m1.4-7h0m4.9 13.8h0m-0.2-7h0m4.5 6.8h0m-0.5-7h0m6 7.2h0m-0.6-7h0m0-7h0m5.4 13.9h0m-0.6-7h0m-0.3-7h0m0.8-7h0m0.1-7h0m-0.5-7h0m4.7 34.8h0m0.5-7h0m-0.6-7h0m1.2-7h0m-1.3-7h0m1.4-7h0m4.3 35h0m0.3-7h0m0.3-7h0m-1.4-7h0m0.4-7h0m0.3-7h0m5 35.6h0m0.7-7h0m-0.7-7h0m0.2-7h0m0.3-7h0m-0.2-7h0m4.9 34.6h0m0.6-7h0m0-7h0m0-7h0m-1.2-7h0m0.4-7h0m5.8 35.3h0m-0.4-7h0m-0.4-7h0m-0.1-7h0m0.4-7h0m-0.5-7h0m1-7h0m4.7 42h0m-0.4-7h0m0-7h0m0.4-7h0m-0.7-7h0m-0.4-7h0m0.8-7h0m-55.1 15.5h0m0.3-6.1h0m3.8 9.2h0m4.6 6.1h0m7.6 1.5h0m3.4-3.4h0m1.2-10.3h0m0.7-3.9h0m2.3-11.4h0m3.4 1.6h0m-5 0h0m4.6-1.6h0m6.1 1.6h0m6.1-4.6h0m6.1 3h0m2.7-2.4h0m4.1-8.2h0m4.6 7.6h0m-53.1-48.2h0m36.3 28.1h0m12.2-12.2h0m7.8-184.4h0m-22.5 97.7h0m14.2-0.7h0"/>
<path class="c6" d="M780.4 914.6h0m0.8-7h0m-0.4-7h0m-0.2-7h0m0.4-7h0m-0.7-7h0m-0.6-7h0m1.4-7h0m4.2 49.1h0m-0.1-7h0m0.6-7h0m0-7h0m-0.5-7h0m-0.6-7h0m0.5-7h0m0.8-7h0m4.7 49.1h0m0.1-7h0m0.3-7h0m-1.2-7h0m-0.2-7h0m0.8-7h0m4.7 35.1h0m0.7-7h0m-0.8-7h0m0.1-7h0m0.6-7h0m4.6 27.7h0m0.3-7h0m0.5-7h0m3.6 14h0m16.2-0.1h0m-0.1-7h0m3.9 7h0m0.1-7h0m5.1 7.1h0m1-7h0m-1.3-7h0m5.5 14.5h0m-0.5-7h0m0.4-7h0m5.2 13.7h0m0-7h0m0.8-7h0m4.1 14.1h0m0.3-7h0m0.6-7h0m-0.7-7h0m-0.2-7h0m4.8 27.8h0m1.1-7h0m-0.3-7h0m-0.4-7h0m-0.4-7h0m4.9 28.5h0m1.3-7h0m-1.1-7h0m0.2-7h0m-0.3-7h0m-74.6-27.6h0m1.7-3.6h0m-0.3-10.9h0m0.9 9.9h0m2.6 3h0m3 9.2h0m3 8.6h0m4.6 0.5h0m2.8 9.6h0m1.8 2.6h0m2.6 9.3h0m0.5 2.9h0m4.5 7.6h0m6.1 3.1h0m3.9-1.5h0m2.2-10.7h0m6.1-3.1h0m2.2-1.6h0m3.9-10.6h0m6.1 6.1h0m4.6-7.6h0m4.6-7.6h0m6 1.5h0m3.1 6.1h0"/>
<path class="w" d="M781.1 899.2h0"/>
<path class="c6" d="M781.8 804.5h0m52.2 25.4h0m23.7 15h0m-21.2-158.1h0"/>
<path class="c7" d="M861.3 914.7h0m0.3-7h0m-0.3-7h0m-0.8-7h0m1.2-7h0m5 27.8h0m-0.9-7h0m-0.2-7h0m0.6-7h0m0-7h0m-0.1-7h0m-0.4-7h0m5.3 42.3h0m0-7h0m-0.1-7h0m0.6-7h0m-0.1-7h0m-0.3-7h0m-0.3-7h0m5.9 42.1h0m-0.1-7h0m-0.6-7h0m0.3-7h0m-0.6-7h0m0.5-7h0m5.6 35.1h0m-0.9-7h0m0.3-7h0m0-7h0m0.8-7h0m4.9 28.3h0m-0.1-7h0m-1.3-7h0m1-7h0m4.5 20.5h0m0.7-7h0m0.1-7h0m5 14.3h0m-1-7h0m-0.3-7h0m5.8 14h0m-0.5-7h0m-0.1-7h0m6.1 13.6h0m-0.2-7h0m-0.9-7h0m6.1 14h0m-1.4-7h0m6 7.2h0m-0.5-7h0m5.7 7h0m-0.4-7h0m5.7 7.2h0m4.6-0.4h0m5.4 0.1h0m-1.3-7h0m5.2 7.5h0m5-0.1h0m0.6-7h0m4.6 6.4h0m-0.2-7h0m5.1 7.4h0m0-7h0m0.6-7h0m4.9 13.8h0m-0.2-7h0m-0.5-7h0m0.5-7h0m4.6 21.3h0m0.2-7h0m0-7h0m0.9-7h0m-0.1-7h0m4.3 27.4h0m0.7-7h0m-0.6-7h0m0.4-7h0m-0.5-7h0m-0.7-7h0m6.4 35.2h0m-0.2-7h0m-0.6-7h0m-0.6-7h0m0.7-7h0m-0.7-7h0m0.9-7h0m4.8 42h0m-0.5-7h0m1.2-7h0m-0.3-7h0m0.3-7h0m-0.4-7h0m5.2 35.2h0m-1-7h0m0.6-7h0m0.6-7h0m-1-7h0m-0.4-7h0m5.1 35.3h0m0.7-7h0m0.2-7h0m-1-7h0m0.5-7h0m-129.7-10.9h0m1.3-1.7h0m2-10.5h0m5.3-4.5h0m5.4 7.6h0m3.8 4.6h0m2.3 8.4h0m3 2.2h0m6.1 7.6h0m8.4 0h0m8.4 4.6h0m6.1 3.1h0m6.1-1.6h0m3.4 7.8h0m4.2-0.1h0m4.2-0.7h0m4.2-7h0m6.8 7.7h0m6.1-7.7h0m6.1-6.1h0m7.6-4.5h0m4.6-9.2h0m3-7.6h0m3.9-2h0m2.2-7.1h0m5.4 7.6h0m6.8 2.3h0m2.8 9.8h0m1.8 1.6h0m1.2 11.3h0m0.3 2.4h0"/>
<path class="w" d="M975 898h0m-0.9-2.4h0"/>
<path class="c7" d="M886.9 797.6h0m71.1-9.6h0m24.5 0h0"/>
<path class="c8" d="M992.6 915.1h0m-1-7h0m5.1 6.7h0m0.1-7h0m5.8 7.2h0m0.1-7h0m-0.1-7h0m5.2 13.9h0m-1-7h0m0.3-7h0m0-7h0m0.3-7h0m-0.1-7h0m-0.7-7h0m5.7 42.3h0m0.1-7h0m-0.6-7h0m0.3-7h0m0.8-7h0m0-7h0m4.8 34.4h0m-0.6-7h0m-0.4-7h0m0.1-7h0m1.1-7h0m4.7 28.6h0m-1-7h0m1-7h0m-0.1-7h0m0.4-7h0m4.9 27.6h0m-0.5-7h0m0.6-7h0m-0.5-7h0m-0.5-7h0m0.7-7h0m4.3 35.1h0m0.6-7h0m-0.9-7h0m0.9-7h0m0.2-7h0m0.1-7h0m0.1-7h0m4.7 41.8h0m-1.1-7h0m1.1-7h0m0.2-7h0m0.1-7h0m0-7h0m-0.2-7h0m5 42h0m-1.3-7h0m0.9-7h0m-0.7-7h0m-0.1-7h0m5.8 28.4h0m-0.8-7h0m0.1-7h0m-0.2-7h0m5 20.5h0m0.4-7h0m0.5-7h0m-0.7-7h0m6.1 21.3h0m-0.2-7h0m-0.4-7h0m0.4-7h0m-0.8-7h0m-0.2-7h0m5.8 35.2h0m0-7h0m-0.9-7h0m0.2-7h0m0.4-7h0m-69.8 13.6h0m4.9-3h0m4.5-6.1h0m2.9-3.1h0m0.5-12.2h0m0.5-2.8h0m-0.5-9.4h0m3-4.5h0m3.3 10.6h0m1.3 3.1h0m3.2 6.8h0m4.4 0.8h0m6.1-7.6h0m4.6-6.1h0m6.9-5.3h0m0.9 12.2h0m2.9 2.2h0m4.5 6.1h0m4.6 0h0m4.6-7.6h0m4.6-4.6h0m2.4 8.9h0m2.9 0.3h0"/>
<path class="w" d="M1018.3 892.8h0m2.1-0.2h0"/>
<path class="c8" d="M1069.3 803h0m-19.8-20h0"/>
<path class="c9" d="M1071.4 915.1h0m0.2-7h0m-0.6-7h0m0.4-7h0m3.8 20.9h0m0.4-7h0m0.9-7h0m-0.2-7h0m0.1-7h0m4.4 27.7h0m-0.6-7h0m1.6-7h0m-1.6-7h0m1.3-7h0m3.9 28.1h0m0.8-7h0m-0.3-7h0m0.4-7h0m-0.9-7h0m6.3 28h0m-1.1-7h0m0.4-7h0m-0.5-7h0m-0.1-7h0m4.8 27.8h0m0-7h0m0.6-7h0m0.9-7h0m4 21.1h0m0.2-7h0m5.4 7.5h0m0.4-7h0m4.4 6.7h0m0.2-7h0m5.4 7.3h0m-0.7-7h0m0.2-7h0m4.2 13.3h0m1.1-7h0m-0.9-7h0m0.2-7h0m0.5-7h0m5.4 28h0m-1-7h0m1.1-7h0m-0.9-7h0m0.3-7h0m4.6 28.1h0m0-7h0m0-7h0m0-7h0m0-7h0m4.6 28.4h0m-0.2-7h0m0.5-7h0m0.3-7h0m4.7 21.1h0m0-7h0m0.1-7h0m4.7 13.9h0m1-7h0m-0.7-7h0m0.5-7h0m4.7 21.1h0m-0.1-7h0m0.4-7h0m-0.6-7h0m0.7-7h0m0.2-7h0m5 34.8h0m-0.7-7h0m-0.1-7h0m-0.3-7h0m0.9-7h0m0-7h0m-0.4-7h0m-85 12.6h0m2.6-6.1h0m7.6-3.1h0m8.4-3h0m5.3 7.6h0m3.1 9.8h0m1.5 2.4h0m6.1 7.6h0m6.1-4.6h0m5.3-7.6h0m0.9-4.1h0m2.1-12.6h0m5.4 7.6h0m6.8-3.8h0m2.5 9h0m1.3 2.4h0m6.1 1.5h0m4.6-9.1h0m3.1-9.2h0m2.4-1.4h0m2.9-9.2h0m1 8.9h0m1.3 1.7h0"/>
<path class="w" d="M1155.3 899.1h0m-2.2 1.3h0"/>
<path class="c9" d="M1072 844.9h0m0 12.1h0"/>
<path class="c10" d="M1163.7 914.8h0m-1.2-7h0m0.4-7h0m0.2-7h0m-0.2-7h0m1-7h0m-0.5-7h0m5.4 42.5h0m-1-7h0m-0.4-7h0m0.4-7h0m-0.3-7h0m1.1-7h0m-0.5-7h0m-0.1-7h0m-0.4-7h0m6 55.5h0m-0.7-7h0m0-7h0m-0.4-7h0m-0.1-7h0m0.6-7h0m-0.2-7h0m0-7h0m-0.3-7h0m6.4 56.1h0m-1.3-7h0m0.7-7h0m-0.6-7h0m0-7h0m0-7h0m-0.1-7h0m4.8 42.1h0m1.1-7h0m-1-7h0m1.2-7h0m-1.1-7h0m1.1-7h0m3.8 35.3h0m0.2-7h0m0.8-7h0m-0.3-7h0m-0.7-7h0m5.4 27.2h0m-0.4-7h0m0.8-7h0m0.4-7h0m4.6 21.3h0m-0.2-7h0m-0.6-7h0m1.2-7h0m-35.5-29.7h0m0.5-1.6h0m2.8-10.6h0m2.3-3.3h0m1.1-11.1h0m1.9 9.8h0m2.3 3.1h0m3.1 7.6h0m3.2 10.5h0m1.3 1.7h0m4.6 7.7h0m6.1 3h0m6.1 4.6h0m0.9 8.5h0m2.9 2.1h0m0.9 11.4h0m-0.1 2.3h0m20.8 5.5h0m1.2-7h0m-1.1-7h0m0.5-7h0m5.5 20.7h0m0.1-7h0m-0.2-7h0m0-7h0m4.9 20.9h0m-0.2-7h0m-0.6-7h0m6.2 13.6h0m-0.9-7h0m-0.7-7h0m5.7 14.7h0m0.6-7h0m-0.6-7h0m5.4 13.8h0m-0.3-7h0m-0.3-7h0m0.6-7h0m4.1 20.7h0m1.3-7h0m-0.3-7h0m-0.2-7h0m4.9 20.9h0m0.2-7h0m-1-7h0m1.3-7h0m-1.4-7h0m1.5-7h0m4.2 35.7h0m-0.7-7h0m1.6-7h0m-0.8-7h0m-0.6-7h0m0.1-7h0m1-7h0m5.1 41.8h0m-0.5-7h0m0-7h0m-0.8-7h0m-0.1-7h0m0.1-7h0m1.4-7h0m-45.7 15.4h0m0.8-9.1h0m5.3 4.5h0m6.1 4.6h0m6.1 1.5h0m6.1-4.5h0m2.6-1h0m5-6.6h0m1.2-1.7h0m3.4-9h0m4.6-7.6h0m4.5 3h0"/>
<path class="w" d="M1192 891.9h0m41 6.5h0"/>
<path class="c10" d="M1267.1 828.9h0m-102.1-102.1h0"/>
</g>
<line class="v d" x1="300.5" x2="300.5" y1="639.3" y2="927.4"/>
<line class="v d" x1="301.5" x2="301.5" y1="639.3" y2="927.4"/>
<line class="v d" x1="396.8" x2="396.8" y1="639.3" y2="927.4"/>
<line class="v d" x1="409.2" x2="409.2" y1="639.3" y2="927.4"/>
<line class="v d" x1="758.2" x2="758.2" y1="639.3" y2="927.4"/>
<line class="v d" x1="772" x2="772" y1="639.3" y2="927.4"/>
<line class="v d" x1="786.8" x2="786.8" y1="639.3" y2="927.4"/>
<line class="v d" x1="836.2" x2="836.2" y1="639.3" y2="927.4"/>
<line class="v d" x1="1051.8" x2="1051.8" y1="639.3" y2="927.4"/>
<line class="v" x1="772" x2="772" y1="639.3" y2="927.4"/>
<line class="v" x1="836.2" x2="836.2" y1="639.3" y2="927.4"/>
<line class="h" x1="208.8" x2="1271.4" y1="783.9" y2="783.9"/>
</g>
<rect class="f" x="208.8" y="639.3" width="1062.6" height="288.1"/>
<line class="k" x1="197.8" x2="207.3" y1="915.7" y2="915.7"/>
<text class="t" text-anchor="end" x="190.6" y="925.9">0</text>
<line class="k" x1="197.8" x2="207.3" y1="830.3" y2="830.3"/>
<text class="t" text-anchor="end" x="190.6" y="840.5">4</text>
<line class="k" x1="197.8" x2="207.3" y1="744.9" y2="744.9"/>
<text class="t" text-anchor="end" x="190.6" y="755.1">8</text>
<line class="k" x1="197.8" x2="207.3" y1="659.6" y2="659.6"/>
<text class="t" text-anchor="end" x="190.6" y="669.8">12</text>
<text class="s" text-anchor="middle" transform="translate(108.8 783.8) rotate(-90)">100SdW</text>
<g clip-path="url(#m3)">
<g class="m">
<path class="c0" d="M210.8 1224h0m0.9-7h0m-0.3-7h0m0.3-7h0m4 21.2h0m0.5-7h0m-0.8-7h0m0.3-7h0m4.6 20.6h0m0.6-7h0m-0.6-7h0m0.4-7h0m5.2 20.7h0m-0.2-7h0m1.1-7h0m-0.1-7h0m4.3 21.5h0m-0.4-7h0m0.9-7h0m5 13.8h0m0-7h0m4 7.3h0m1-7h0m0.2-7h0m5 14h0m-1.1-7h0m0.2-7h0m0.5-7h0m4.8 21h0m-0.1-7h0m4.4 7h0m0.6-7h0m0.1-7h0m4.3 13.7h0m0.6-7h0m0.9-7h0m-0.5-7h0m5 21.1h0m-0.5-7h0m0.3-7h0m-0.7-7h0m5.9 21.3h0m-0.4-7h0m-0.6-7h0m5.9 13.2h0m-0.6-7h0m0.4-7h0m5 14.2h0m0.3-7h0m-1.1-7h0m5.9 14h0m-0.3-7h0m0.1-7h0m0.7-7h0m0.1-7h0m4.8 28.4h0m-0.8-7h0m0.4-7h0m-0.8-7h0m5.7 20.9h0m-0.7-7h0m1.3-7h0m-0.2-7h0m4.6 20.6h0m-0.5-7h0m0.3-7h0m-0.5-7h0m0.7-7h0m-0.1-7h0m-0.3-7h0m0.8-7h0m-0.1-7h0m0.5-7h0m-1-7h0m4.6 70.2h0m0.4-7h0m0.5-7h0m-0.6-7h0m0.8-7h0m-0.5-7h0m-0.5-7h0m-0.1-7h0m-0.1-7h0m0.9-7h0m-0.6-7h0m0.1-7h0m4.6 76.8h0m0.7-7h0m0.3-7h0m-0.7-7h0m1.1-7h0m-0.1-7h0m-0.4-7h0m-0.7-7h0m0.2-7h0m-0.1-7h0m0-7h0m-0.3-7h0m-99.3 44.4h0m7.6 0h0m6.1 3h0m4.6 4.6h0m6.1 6.1h0m6.1-6.1h0m6.1-3h0m3 9.1h0m6.1-6.1h0m4.6-3h0m6.1-0.8h0m6.1 5.3h0m6.1-1.5h0m2.6-2.2h0m2.7-9.2h0m5.3 6.8h0m4.6 1.6h0m2.1-2.5h0m0.9-9.7h0m-0.1-4.2h0m0.1-11.1h0m4.6-6.1h0m-1.9-3h0m-1.1-11.4h0m6.1-8.4h0m3-9.9h0m2.2 9.1h0m2.4 3.1h0m1.5 9.9h0"/>
<path class="w" d="M212.6 1208.6h0m-0.4-2.9h0"/>
<path class="c0" d="M227.9 1164.8h0m-0.8 9.9h0m8.4 6.1h0m15.2-12.2h0m0 12.2h0m48.8-94h0"/>
<path class="c1" d="M313.8 1224.1h0m0.8-7h0m-0.1-7h0m-0.8-7h0m5.9 20.4h0m0-7h0m0.1-7h0m0.5-7h0m-1.6-7h0m6.1 28.5h0m0.4-7h0m-0.9-7h0m0.5-7h0m4.1 20.6h0m0-7h0m1.1-7h0m0.1-7h0m4.3 21.3h0m0-7h0m-0.4-7h0m0.5-7h0m5.8 20.8h0m-0.3-7h0m-0.4-7h0m-0.4-7h0m0.7-7h0m4.3 27.8h0m0.7-7h0m-0.3-7h0m-0.4-7h0m5.8 21.6h0m-0.3-7h0m5.4 7.1h0m-0.1-7h0m4.8 6.7h0m-0.4-7h0m-0.6-7h0m6 13.6h0m-0.2-7h0m0-7h0m-0.1-7h0m4.2 21.2h0m0.7-7h0m0.8-7h0m-1.1-7h0m-0.3-7h0m5.9 28.4h0m-0.7-7h0m0.3-7h0m0.8-7h0m-1.1-7h0m0.2-7h0m5.8 35.1h0m0.2-7h0m-1.3-7h0m0.7-7h0m-0.3-7h0m0.4-7h0m0.1-7h0m-0.9-7h0m5.8 48.5h0m-0.9-7h0m0.6-7h0m-0.2-7h0m0.8-7h0m0.1-7h0m-1.3-7h0m0.6-7h0m4.5 49.1h0m1.4-7h0m-1.6-7h0m1-7h0m0.5-7h0m-0.7-7h0m0.3-7h0m-0.7-7h0m4.7 49.1h0m0.6-7h0m0.3-7h0m-0.3-7h0m0.5-7h0m0.2-7h0m5 35.1h0m-0.4-7h0m-0.7-7h0m1.3-7h0m-0.7-7h0m0.2-7h0m5 34.9h0m0.4-7h0m-0.2-7h0m-0.3-7h0m-0.8-7h0m5.2 28.1h0m1.1-7h0m-0.2-7h0m-1.3-7h0m1.4-7h0m-0.9-7h0m5 34.9h0m0.8-7h0m-1-7h0m0.1-7h0m0.2-7h0m0.2-7h0m0.2-7h0m-100.2 10.5h0m3.4-6.1h0m4.5 0h0m4.6 9.2h0m6.1-3.1h0m2.4-1.8h0m2.9-7.3h0m4.6 7.6h0m3.8 9.1h0m4.6 6.1h0m6.1-4.5h0m4.5-9.2h0m4.6-3h0m6.1-6.1h0m0.8-3.1h0m2.3-10.6h0m1.5-6.1h0m6.1-2.3h0m6.8 6.8h0m2.5 8.2h0m2.9 1h0m6.1 3h0m4.5 6.1h0m3.1-9.1h0m2.3-6.1h0m5.3 6.1h0"/>
<path class="w" d="M399.4 1204h0m-8.4-21.7h0m19.8 28.8h0m1-2.2h0"/>
<path class="c1" d="M364.2 1174.7h0m-46.4-22.1h0m0.3 8.3h0m0.4 8.4h0m0.8 7.6h0m89.9-142.7h0m4.6 48h0"/>
<path class="c2" d="M416.8 1224.2h0m-0.5-7h0m0.8-7h0m-1-7h0m6 20.8h0m-0.4-7h0m-0.1-7h0m0.3-7h0m-0.1-7h0m-0.1-7h0m5.1 34.9h0m0.2-7h0m-0.4-7h0m0.7-7h0m0.2-7h0m-0.8-7h0m-0.4-7h0m5 42.1h0m0.4-7h0m0.3-7h0m-1-7h0m0.6-7h0m-0.2-7h0m0.3-7h0m5.8 42h0m-1-7h0m-0.5-7h0m0.8-7h0m0.2-7h0m0-7h0m-0.3-7h0m4.4 42h0m1.2-7h0m0.1-7h0m0.1-7h0m-1.5-7h0m0.5-7h0m0.9-7h0m3.6 42.1h0m0.5-7h0m0-7h0m0.7-7h0m5.2 21h0m-1.4-7h0m1.2-7h0m4.9 13.4h0m-0.5-7h0m-0.6-7h0m5 14.6h0m1.4-7h0m-0.6-7h0m-0.3-7h0m5 20.9h0m0.8-7h0m-0.9-7h0m-0.2-7h0m0.8-7h0m-0.5-7h0m5.5 34.8h0m0.5-7h0m-0.9-7h0m-0.4-7h0m1.3-7h0m-0.4-7h0m0.4-7h0m4 41.8h0m0.2-7h0m0-7h0m0.3-7h0m-0.3-7h0m-0.6-7h0m0-7h0m1-7h0m4.3 49.3h0m0.2-7h0m0.9-7h0m0-7h0m-0.7-7h0m0.3-7h0m-0.5-7h0m0.7-7h0m3.9 48.9h0m0.3-7h0m0.2-7h0m-0.4-7h0m0.6-7h0m0.3-7h0m0.3-7h0m4 42.2h0m-0.4-7h0m0.2-7h0m-0.1-7h0m0.5-7h0m0.4-7h0m0.3-7h0m5.2 41.6h0m-0.5-7h0m-0.7-7h0m0.8-7h0m-0.7-7h0m0.7-7h0m-0.2-7h0m-0.6-7h0m0.2-7h0m5.6 55.8h0m-1.1-7h0m1.4-7h0m-0.4-7h0m0.4-7h0m-0.4-7h0m0.1-7h0m3.9 42.5h0m0.8-7h0m-0.3-7h0m-0.2-7h0m1-7h0m-0.3-7h0m-0.2-7h0m5.1 41.7h0m0-7h0m-0.1-7h0m0-7h0m0.5-7h0m-1.1-7h0m0.3-7h0m4.8 42.1h0m0.6-7h0m-0.1-7h0m0.7-7h0m-0.1-7h0m-1.3-7h0m0.7-7h0m5.2 42.1h0m-0.3-7h0m-0.2-7h0m0.2-7h0m0.1-7h0m0.4-7h0m-0.9-7h0m1-7h0m-105.6 17.6h0m3-9.1h0m3.6-0.6h0m1.8-8.6h0m5.3-5.3h0m5.3 2.3h0m5.4-3.1h0m1.5 10.5h0m1.5 1.7h0m2.4 12h0m2.2 3.3h0m6.1 3h0m6.1-6.1h0m4.6-9.1h0m3.4-2.7h0m2.6-9.5h0m3.4 1.5h0m-5 0h0m5.3-4.6h0m5.4-1.5h0m6.1 6.1h0m6.1-4.6h0m1.5-1.9h0m3-10.2h0m2.7 9.4h0m1.1 2.7h0m5.4 7.7h0m7.6-5.4h0m4.6-2.3h0m3.8-1.5h0"/>
<path class="w" d="M508.3 1188.1h0m-67.9 21.7h0m34.6-18.8h0"/>
<path class="c2" d="M456.4 1179.2h0m41.8-79.2h0"/>
<path class="c3" d="M528.3 1224.1h0m0.5-7h0m0-7h0m-0.8-7h0m-0.2-7h0m6 27.9h0m0.1-7h0m-0.5-7h0m0.5-7h0m0-7h0m-1-7h0m0.1-7h0m6 41.6h0m-1-7h0m0.3-7h0m-0.5-7h0m0-7h0m5.7 28h0m-0.6-7h0m0.4-7h0m-0.7-7h0m0.1-7h0m6.4 27.9h0m-0.6-7h0m-0.9-7h0m0.8-7h0m4.4 21.5h0m1.2-7h0m0-7h0m3.7 13.5h0m0.2-7h0m-29.5-27.1h0m2.4-3.2h0m0.1-14.3h0m-1-3.5h0m1-11h0m0.8 11.4h0m1.5 3.8h0m3.1 12.5h0m2.3 4.3h0m6.1-3.8h0m6.1 5.3h0m4.5 9.1h0m3 9.4h0m0.8 1.3h0m1 10.1h0m0.1 2.1h0m17.8 0.7h0m9.2 0h0m5.8 0.4h0m14.2 0h0m-0.2-7h0m5.4 6.8h0m-0.3-7h0m0-7h0m0.5-7h0m0.1-7h0m-0.1-7h0m5.5 34.9h0m-0.3-7h0m0.1-7h0m0.3-7h0m-1.5-7h0m1-7h0m-0.3-7h0m4.7 41.8h0m0.7-7h0m-1-7h0m1.4-7h0m-0.5-7h0m0.5-7h0m-1.1-7h0m0.4-7h0m-0.9-7h0m-44.2 44h0m5.4 8.3h0m3.6-1.7h0m4-10.4h0m1.9 8.4h0m4.2 0.7h0m6.1 6.1h0m1.8-2.3h0m2.7-12.9h0m0.7-1.4h0m1.8-7.8h0m0.6-12.2h0m1.6-0.9h0m1.4-9.7h0m4.6-6.1h0m4.6-7.7h0m1.5-3.8h0m-54.9 4.7h0m30.5 34.7h0m4.6-8.4h0m20.6-48.7h0m-0.5 8.4h0"/>
<path class="c4" d="M628.9 1223.7h0m-0.1-7h0m-0.5-7h0m-0.7-7h0m0.4-7h0m5.4 28.1h0m-0.9-7h0m0.1-7h0m0-7h0m0.7-7h0m-0.6-7h0m5.3 35.3h0m-0.6-7h0m1.3-7h0m-0.7-7h0m-0.3-7h0m5.2 27.6h0m0.7-7h0m-1.1-7h0m0.5-7h0m-0.5-7h0m4.9 28.2h0m0.5-7h0m0.1-7h0m0.4-7h0m-0.2-7h0m5.1 27.6h0m0.2-7h0m-0.3-7h0m-0.1-7h0m0.2-7h0m0.7-7h0m4.5 34.9h0m-0.9-7h0m0-7h0m0.5-7h0m-0.4-7h0m4.9 28.7h0m-0.1-7h0m1-7h0m0.1-7h0m-0.7-7h0m6 27.8h0m-0.2-7h0m0-7h0m-1.3-7h0m5.7 21.1h0m0.6-7h0m0.1-7h0m3.9 13.9h0m-0.1-7h0m5.3 7.1h0m0.8-7h0m5.2 6.5h0m-0.5-7h0m-0.2-7h0m4.3 14.1h0m1.4-7h0m-0.6-7h0m0.3-7h0m3.9 21.5h0m0.8-7h0m-0.8-7h0m1.3-7h0m-0.1-7h0m4 27.3h0m-0.2-7h0m0-7h0m0.4-7h0m1-7h0m-0.4-7h0m5 35.4h0m0.4-7h0m-0.2-7h0m-0.3-7h0m-0.9-7h0m0.2-7h0m0.6-7h0m5.1 42.2h0m-0.5-7h0m0.2-7h0m0.2-7h0m-0.3-7h0m-0.2-7h0m0.9-7h0m-85.5 4.3h0m-0.9-4.9h0m1.2-13.4h0m0.8 9.9h0m2.2 2.3h0m4.6 3.1h0m7.6 3h0m4.1-1.8h0m3.5-7.3h0m3.3 9.1h0m2.8 1.6h0m7.6 1.5h0m3.1 7.6h0m3 1.5h0m2.4 7h0m3.7 2.2h0m6.1-1.6h0m2.7-1.2h0m3.4-9.4h0m4.8-1.2h0m2.8-8h0m3.3-0.9h0m2.8-8.2h0m4.6-4.6h0m6.1 1.5h0"/>
<path class="w" d="M711.5 1192.5h0m2.8-3h0"/>
<path class="c4" d="M668.1 1160.2h0m4.6-3.1h0m38.8-15.2h0m0 8.4h0m0 8.4h0m-0.8 6.8h0"/>
<path class="c5" d="M713.4 1223.6h0m-0.9-7h0m1-7h0m-1-7h0m-0.4-7h0m5.5 27.9h0m-0.5-7h0m1.3-7h0m-1.3-7h0m0.3-7h0m0.7-7h0m4.9 35.4h0m-1.1-7h0m1.5-7h0m0.1-7h0m-0.1-7h0m-1.1-7h0m1.1-7h0m4.3 41.8h0m-0.3-7h0m-0.4-7h0m1.4-7h0m-1.1-7h0m0.9-7h0m0.3-7h0m4 42.4h0m0.1-7h0m0.5-7h0m-1.1-7h0m0.7-7h0m0.6-7h0m5 34.8h0m-0.9-7h0m0-7h0m1-7h0m-1.2-7h0m0.8-7h0m5 35h0m-0.9-7h0m0.6-7h0m-0.3-7h0m0.5-7h0m-0.1-7h0m5.4 34.9h0m-0.4-7h0m0.4-7h0m-0.7-7h0m0.5-7h0m0-7h0m5.4 35.3h0m-1.3-7h0m0-7h0m0.9-7h0m-0.2-7h0m0.5-7h0m4.8 35.1h0m0-7h0m0.1-7h0m-0.4-7h0m-0.9-7h0m1.6-7h0m4.8 34.6h0m0.2-7h0m-1.1-7h0m0.1-7h0m0.2-7h0m-0.3-7h0m5 35.1h0m0.3-7h0m-0.6-7h0m0.3-7h0m-0.1-7h0m0.5-7h0m-0.7-7h0m-54.4 4.4h0m2.6-9.1h0m6.1-4.6h0m4.6-4.6h0m4.6 6.1h0m4.5 6.1h0m4.9 0h0m-5 3.1h0m4.6-1.5h0m4.5-1.6h0m6.1-0.7h0m4.6-2.3h0m6.1 0.7h0m4.6-2.2h0m2.3-2.2h0m1.5-10h0m1.5-4.6h0m0.8-12.2h0m-0.6-2.2h0m0.6-9.2h0"/>
<path class="w" d="M762.7 1208.4h0m0.6-3.2h0m-40.8-15.8h0m-0.8-3h0"/>
<path class="c5" d="M758.2 959.8h0"/>
<path class="c6" d="M778.4 1223.8h0m0-7h0m-0.3-7h0m-1-7h0m1.1-7h0m3.9 27.7h0m0.1-7h0m0.8-7h0m-0.7-7h0m-0.3-7h0m1-7h0m-0.5-7h0m5.5 42h0m-0.2-7h0m0.3-7h0m0.3-7h0m-1.3-7h0m0-7h0m0.3-7h0m5.3 42.3h0m0.1-7h0m-0.2-7h0m-0.1-7h0m-0.2-7h0m0.8-7h0m0.2-7h0m4.1 41.6h0m0.8-7h0m-0.1-7h0m-0.2-7h0m-0.7-7h0m0.9-7h0m4 35.1h0m0.1-7h0m0.7-7h0m-0.3-7h0m4.7 21.5h0m0.6-7h0m4.8 6.8h0m-0.3-7h0m4.8 6.8h0m0.8-7h0m4.9 7h0m-0.3-7h0m-0.6-7h0m5.9 13.8h0m0-7h0m-0.5-7h0m-0.2-7h0m-0.3-7h0m0.3-7h0m5.5 35.5h0m0.2-7h0m-0.7-7h0m-0.2-7h0m1.2-7h0m0.1-7h0m4.1 34.8h0m0.5-7h0m-0.1-7h0m-0.1-7h0m0.7-7h0m-1.1-7h0m5.7 35.4h0m-0.9-7h0m0.9-7h0m-1-7h0m0.6-7h0m-0.3-7h0m1.1-7h0m-0.4-7h0m0.1-7h0m5 55.7h0m-0.9-7h0m-0.3-7h0m0.7-7h0m0.4-7h0m-1-7h0m0.2-7h0m0.1-7h0m0.3-7h0m5 56.3h0m-0.5-7h0m1.3-7h0m-0.6-7h0m0-7h0m-0.1-7h0m0.3-7h0m-1-7h0m1.3-7h0m-75.6 18.2h0m1.6-1.7h0m1.4-10.5h0m7.6-4.5h0m7.6 6.1h0m6.1 6.1h0m2 11.1h0m-0.4 2.6h0m2.3 8.1h0m2.2 2.5h0m6.9 1.6h0m5.3-3.1h0m1.2-1.8h0m1.9-10.4h0m0.6-2.6h0m2.4-8h0m3.8-5.4h0m5.4 3.8h0m2-2.2h0m1.8-10h0m2.3-9.1h0m3-1.5h0m7.6 2.3h0m3.1 9.9h0"/>
<path class="w" d="M827.1 1212h0"/>
<path class="c6" d="M779.6 1113h0m4.2 24.3h0m0.7 8.4h0m0.8 8.4h0m0 8.4h0"/>
<path class="c7" d="M860.5 1224.2h0m0.5-7h0m-0.4-7h0m0.9-7h0m-0.1-7h0m5.1 27.9h0m-0.7-7h0m-0.2-7h0m-0.1-7h0m1.2-7h0m-0.5-7h0m4.8 34.9h0m-0.2-7h0m0.4-7h0m-0.1-7h0m0.8-7h0m-1.4-7h0m6.3 34.4h0m-0.6-7h0m0.6-7h0m4.4 14.6h0m0.1-7h0m4.3 7h0m-0.1-7h0m6 6.8h0m0-7h0m5.4 7.1h0m-0.9-7h0m4.5 7h0m0.6-7h0m5.5 7.3h0m-0.7-7h0m5.2 6.4h0m5.8 0h0m4.7 0h0m0.2-7h0m4.7 7h0m-0.2-7h0m4.8 7.1h0m-69.9-37.4h0m3.3-6.1h0m4.6-3h0m3 6.1h0m2.2 9.2h0m0.9 3h0m4.6 9.1h0m7.6 3.1h0m4.5-1.6h0m6.1 0h0m6.1 1.6h0m4.6 4.5h0m6.1 1.6h0m6.9-5.4h0m6.8 1.5h0m4.6 6.9h0m21.5 7.1h0m0.7-7h0m4.3 7.1h0m-0.1-7h0m0-7h0m5.6 14.1h0m-0.3-7h0m0.4-7h0m-0.6-7h0m1.1-7h0m4.8 27.3h0m0.2-7h0m-1.3-7h0m1.2-7h0m0.1-7h0m-1-7h0m4.9 35.2h0m0.5-7h0m-0.4-7h0m-0.1-7h0m0.5-7h0m0.6-7h0m-1.2-7h0m0.6-7h0m5.6 49.6h0m-0.6-7h0m-0.1-7h0m-0.6-7h0m1.4-7h0m-1-7h0m0.3-7h0m0.4-7h0m0-7h0m3.9 55.8h0m0.1-7h0m0.9-7h0m-0.4-7h0m-0.5-7h0m0.5-7h0m-0.6-7h0m1.5-7h0m4.5 48.5h0m-0.5-7h0m-0.4-7h0m1-7h0m0.2-7h0m-0.7-7h0m-39.9 31.3h0m4.3-9.1h0m3.5-1.8h0m1.1-10.4h0m4.6-9.1h0m3.3-1h0m1.2-9.7h0m1.3-2.2h0m3.3-8.5h0m3.8-6.1h0m3.1-7.6h0m2.4 11h0m2.9 1.2h0m4.2 9.6h0m1.9 1.1h0m0.2 12.8h0m2.1 2.4h0"/>
<path class="w" d="M870 1213.6h0m110.5-19.1h0"/>
<path class="c7" d="M867.6 1138.1h0m122.6-9.9h0m-123.4 30.5h0m-0.8 8.3h0m-0.3 6.1h0m78.4 32h0"/>
<path class="c8" d="M993 1223.9h0m4.5-0.3h0m-0.8-7h0m6.2 7.5h0m-1.4-7h0m0.8-7h0m0.4-7h0m5.1 20.7h0m-0.1-7h0m0.2-7h0m-1.1-7h0m-0.2-7h0m0.8-7h0m-0.3-7h0m4.4 42.1h0m0.1-7h0m1.3-7h0m-0.6-7h0m0.3-7h0m0.1-7h0m0.2-7h0m3.8 42.2h0m1-7h0m0.1-7h0m-0.7-7h0m0.3-7h0m-0.8-7h0m0.4-7h0m0.3-7h0m0.4-7h0m4.2 56.1h0m-0.3-7h0m1-7h0m0-7h0m0-7h0m-1.1-7h0m0.1-7h0m0.4-7h0m0-7h0m5.3 55.5h0m0.5-7h0m-0.4-7h0m0.1-7h0m0.4-7h0m0-7h0m0-7h0m4.3 42.5h0m-0.1-7h0m-0.6-7h0m0.9-7h0m-1-7h0m0.3-7h0m5.7 34.8h0m-0.3-7h0m0.5-7h0m-1-7h0m1.2-7h0m-0.9-7h0m6.1 34.6h0m-1.5-7h0m0.9-7h0m0.2-7h0m-0.9-7h0m0-7h0m5 35.1h0m0.3-7h0m-0.1-7h0m-0.4-7h0m6.1 21.5h0m-1.2-7h0m0.1-7h0m5.2 13.7h0m0.7-7h0m0.3-7h0m-0.7-7h0m-0.5-7h0m5.5 27.7h0m-0.5-7h0m0.5-7h0m-0.5-7h0m0.4-7h0m-0.1-7h0m0.5-7h0m4.6 42.2h0m0.2-7h0m0.6-7h0m0.2-7h0m-0.4-7h0m-0.7-7h0m0.4-7h0m0-7h0m-0.4-7h0m-74.6 44.4h0m1.8-4.5h0m4.6-1.6h0m1-3.1h0m2-10.6h0m1.5-3.4h0m0.8-11.8h0m1.1-1.5h0m4.6-1.6h0m4.5-9.1h0m3.1-9.1h0m2.3-3.1h0m3 9.1h0m2 9.7h0m1.8 2.5h0m4.6 4.6h0m4.6 0h0m6.1 0h0m3.8 6.1h0m2.9 10.5h0m0.9 3.2h0m4.6 0h0m2.7-1.3h0m1.1-10.9h0m0.7-3.5h0m3.1-13.2h0m4.5-7.7h0m2.8-6h0"/>
<path class="w" d="M1036.6 1215.1h0"/>
<path class="c8" d="M1024 1129.3h0m27.5 1.2h0m17.2-27.5h0m0.3 8.4h0m-0.3 8.4h0m0 8.4h0m0.3 8.4h0m-0.3 9.1h0m-1.9-104.7h0m-45 50h0"/>
<path class="c9" d="M1071 1223.5h0m-0.6-7h0m0.7-7h0m0.6-7h0m-1.1-7h0m5 28.7h0m0.4-7h0m-0.5-7h0m1-7h0m0.2-7h0m-1.2-7h0m5.5 34.3h0m0.5-7h0m0.1-7h0m-1.3-7h0m1.4-7h0m-0.5-7h0m4.7 35.3h0m0.6-7h0m-1.1-7h0m0.5-7h0m-0.3-7h0m0.5-7h0m-0.1-7h0m0.2-7h0m-0.9-7h0m4.9 55.8h0m0.9-7h0m0.1-7h0m0-7h0m0.2-7h0m0-7h0m-0.7-7h0m-0.4-7h0m0.8-7h0m-20.1 18.7h0m2.6-7.6h0m4.5-3h0m4.6 1.5h0m0.7-2.9h0m2.4-12.4h0m1.8-5.3h0m2-14.5h0m1.3 14.3h0m0.2 5.5h0m-0.7 13.1h0m1.1 8h0m-0.9 3.3h0m18.7 37.5h0m4.8 0.1h0m-0.6-7h0m5.5 6.7h0m-0.2-7h0m-0.5-7h0m5.5 14.5h0m-0.2-7h0m4.4 6.9h0m0.7-7h0m4.2 6.7h0m1.3-7h0m-1.1-7h0m0.9-7h0m-0.6-7h0m0.9-7h0m-0.2-7h0m-0.3-7h0m0.5-7h0m4.9 56.2h0m-1.4-7h0m1.1-7h0m0.2-7h0m-0.9-7h0m0.4-7h0m-0.3-7h0m-0.3-7h0m0.1-7h0m5.2 55.9h0m0.4-7h0m-0.9-7h0m1.6-7h0m-0.6-7h0m0.5-7h0m-0.4-7h0m-1-7h0m0.2-7h0m0.4-7h0m5.8 63.2h0m-1.3-7h0m0.2-7h0m0.7-7h0m-0.3-7h0m0.3-7h0m0.1-7h0m-0.5-7h0m-0.4-7h0m5.3 55.8h0m0.3-7h0m-0.8-7h0m1.1-7h0m-0.3-7h0m-0.5-7h0m-44.6 25h0m1.5-9.2h0m4.6 0h0m3.1-3h0m-0.2-2.1h0m1.7-8.6h0m2.7 8.4h0m0.3 2.3h0m4.6 6.1h0m4.6 4.5h0m3.1-2.4h0m1.4-8.2h0m2.4-2.4h0m0.7-9.8h0m-1.5-2h0m0-10.2h0m-3.1-9.2h0m-1.5-7.6h0m6.1-3h0m5.3-3.8h0m4.6 8.3h0m0.3 8.5h0m2 2.2h0m1.1 9.1h0m2.7 1.6h0m2.3 9.1h0"/>
<path class="w" d="M1075.8 1205.6h0"/>
<path class="c9" d="M1096.4 1154.1h0m-0.7 11.4h0m16 1.5h0m7.6-3h0m-4.6 9.1h0m-6.1 51.8h0m12.2-7.6h0"/>
<path class="c8" d="M1160.4 1164.8h0"/>
<path class="c10" d="M1162.7 1223.8h0m-0.1-7h0m-0.1-7h0m0.3-7h0m5.6 21.1h0m-0.4-7h0m-0.2-7h0m0.4-7h0m0-7h0m0.2-7h0m4.5 35.3h0m-0.5-7h0m1.4-7h0m-1.4-7h0m0.3-7h0m0.8-7h0m-0.9-7h0m5 41.2h0m1.2-7h0m0.1-7h0m-1.3-7h0m0.6-7h0m0.5-7h0m-0.7-7h0m5 42.5h0m0.1-7h0m0.2-7h0m0.6-7h0m-0.3-7h0m0.3-7h0m4.1 34.6h0m0.8-7h0m-0.1-7h0m-0.3-7h0m0.2-7h0m4.3 28.7h0m-0.1-7h0m0.4-7h0m0.7-7h0m4.4 20.6h0m-0.6-7h0m-34.5-24.4h0m1.8-9.1h0m4.6-9.2h0m4.5-1.5h0m4.6 0.8h0m3.8 1.5h0m1.1 10h0m3.5 1.4h0m5.3 6.1h0m1.9 8.4h0m2.7 2.3h0m2.2 12.2h0m2.4 3h0m1.5 4.6h0m26.7 0.6h0m-0.4-7h0m5.4 7.6h0m5-0.1h0m-0.6-7h0m5.1 7.1h0m0.7-7h0m-0.7-7h0m4.9 13.4h0m0-7h0m-0.5-7h0m0.9-7h0m5.2 21.2h0m-0.7-7h0m0.2-7h0m0.8-7h0m-0.9-7h0m0.2-7h0m5.4 35.2h0m-0.4-7h0m0.2-7h0m-0.9-7h0m1.4-7h0m-1.4-7h0m5.8 34.9h0m-0.1-7h0m-0.2-7h0m0.6-7h0m3.8 21.2h0m0.8-7h0m0.2-7h0m0.5-7h0m-45.7 16.8h0m0.5-2h0m1-10.1h0m6.1 3h0m4.6 0h0m4.6-3h0m3-9.2h0m1.5-7.6h0m6.1-1.5h0m3.1-9.2h0m2.3-9.1h0m0.9 10.1h0m2.9 2.1h0m4.6 9.1h0m4.5 3.1h0m-99-63.5h0m96 24.4h0"/>
</g>
<line class="v d" x1="300.5" x2="300.5" y1="948.2" y2="1236.3"/>
<line class="v d" x1="301.5" x2="301.5" y1="948.2" y2="1236.3"/>
<line class="v d" x1="396.8" x2="396.8" y1="948.2" y2="1236.3"/>
<line class="v d" x1="409.2" x2="409.2" y1="948.2" y2="1236.3"/>
<line class="v d" x1="758.2" x2="758.2" y1="948.2" y2="1236.3"/>
<line class="v d" x1="772" x2="772" y1="948.2" y2="1236.3"/>
<line class="v d" x1="786.8" x2="786.8" y1="948.2" y2="1236.3"/>
<line class="v d" x1="836.2" x2="836.2" y1="948.2" y2="1236.3"/>
<line class="v d" x1="1051.8" x2="1051.8" y1="948.2" y2="1236.3"/>
<line class="v" x1="409.2" x2="409.2" y1="948.2" y2="1236.3"/>
<line class="v" x1="758.2" x2="758.2" y1="948.2" y2="1236.3"/>
<line class="h" x1="208.8" x2="1271.4" y1="1067.5" y2="1067.5"/>
</g>
<rect class="f" x="208.8" y="948.2" width="1062.6" height="288.1"/>
<line class="k" x1="197.8" x2="207.3" y1="1224.6" y2="1224.6"/>
<text class="t" text-anchor="end" x="190.6" y="1234.8">0.0</text>
<line class="k" x1="197.8" x2="207.3" y1="1161" y2="1161"/>
<text class="t" text-anchor="end" x="190.6" y="1171.2">2.5</text>
<line class="k" x1="197.8" x2="207.3" y1="1097.4" y2="1097.4"/>
<text class="t" text-anchor="end" x="190.6" y="1107.6">5.0</text>
<line class="k" x1="197.8" x2="207.3" y1="1033.8" y2="1033.8"/>
<text class="t" text-anchor="end" x="190.6" y="1044">7.5</text>
<line class="k" x1="197.8" x2="207.3" y1="970.2" y2="970.2"/>
<text class="t" text-anchor="end" x="190.6" y="980.4">10.0</text>
<text class="s" text-anchor="middle" transform="translate(108.8 1092.8) rotate(-90)">SdFe</text>
<g clip-path="url(#m4)">
<g class="m">
<path class="c0" d="M211.6 1532.8h0m-0.7-7h0m0.2-7h0m0.3-7h0m-0.9-7h0m-0.2-7h0m0.2-7h0m1.1-7h0m-0.8-7h0m4.7 56.4h0m0-7h0m1.3-7h0m-1.4-7h0m1.5-7h0m-0.7-7h0m-0.5-7h0m-0.4-7h0m1.4-7h0m5.1 55.9h0m-1.4-7h0m1.2-7h0m-0.2-7h0m0.2-7h0m-0.5-7h0m0.3-7h0m-0.4-7h0m4.5 49.1h0m0.6-7h0m0.4-7h0m-1.2-7h0m0.2-7h0m1.3-7h0m-0.7-7h0m0.1-7h0m4.3 48.7h0m0.5-7h0m-0.1-7h0m0.5-7h0m-0.3-7h0m0.2-7h0m0.5-7h0m4.8 42.1h0m-0.4-7h0m0.6-7h0m-0.7-7h0m-0.4-7h0m1.1-7h0m-0.3-7h0m-1-7h0m5.6 49.1h0m-0.7-7h0m0.2-7h0m-0.1-7h0m0-7h0m-0.1-7h0m1.3-7h0m-0.1-7h0m-0.5-7h0m5.6 56h0m-0.2-7h0m-0.5-7h0m-0.1-7h0m1-7h0m-1.6-7h0m1.1-7h0m-0.2-7h0m-0.5-7h0m0.4-7h0m5.3 63.1h0m0-7h0m0-7h0m-0.1-7h0m-0.9-7h0m-0.1-7h0m1.2-7h0m0.4-7h0m-0.5-7h0m0.4-7h0m4.2 62.5h0m0.2-7h0m0.6-7h0m-1.5-7h0m0.3-7h0m1-7h0m0.2-7h0m4.4 42.6h0m0.6-7h0m-0.3-7h0m0.2-7h0m-1-7h0m0.2-7h0m0.6-7h0m4.3 41.9h0m0.9-7h0m0-7h0m-0.5-7h0m0.1-7h0m0.4-7h0m-1.4-7h0m5.5 42h0m0.8-7h0m0.1-7h0m-0.6-7h0m0.5-7h0m-1.3-7h0m0.9-7h0m-0.2-7h0m4.5 48.7h0m0.2-7h0m0-7h0m0.6-7h0m-0.6-7h0m0.2-7h0m0.3-7h0m0.1-7h0m4.5 48.7h0m-0.5-7h0m1.5-7h0m-0.5-7h0m0.4-7h0m-0.7-7h0m0.3-7h0m-0.6-7h0m0.8-7h0m-0.2-7h0m5 63.4h0m-0.2-7h0m-0.6-7h0m0.4-7h0m-0.1-7h0m0.9-7h0m-0.6-7h0m-0.6-7h0m0.3-7h0m-0.4-7h0m0.1-7h0m5.5 69.9h0m0.2-7h0m-0.7-7h0m0.6-7h0m0.8-7h0m-0.2-7h0m-0.3-7h0m0.4-7h0m-1.2-7h0m0.1-7h0m0.8-7h0m0.3-7h0m-1.4-7h0m1.1-7h0m4.6 90.9h0m-0.5-7h0m0.8-7h0m0.4-7h0m0-7h0m-1-7h0m0.4-7h0m0-7h0m0.4-7h0m-0.8-7h0m0-7h0m-0.5-7h0m0.3-7h0m0.9-7h0m0.2-7h0m0.2-7h0m3.9 105.6h0m0.4-7h0m-0.8-7h0m0.8-7h0m0.2-7h0m-0.2-7h0m-0.1-7h0m-0.2-7h0m0.3-7h0m0.6-7h0m-0.9-7h0m0.1-7h0m0.6-7h0m-0.6-7h0m-0.7-7h0m5.2 98h0m1.2-7h0m0-7h0m-0.8-7h0m0-7h0m1-7h0m-1.1-7h0m-0.2-7h0m0-7h0m0-7h0m0.1-7h0m0.4-7h0m0.1-7h0m0.3-7h0m5.1 90.9h0m-1-7h0m0.6-7h0m0.7-7h0m-0.9-7h0m0.5-7h0m-0.3-7h0m-0.6-7h0m0.6-7h0m-0.8-7h0m1.2-7h0m0.1-7h0m0-7h0m-100.6 20.1h0m3-0.7h0m6.1 2.2h0m6.1 3.1h0m5.4 7.6h0m5.3-7.6h0m4.6-9.1h0m3.8-6.1h0m3-6.1h0m3.8 9.1h0m0.6 10.8h0m1 1.4h0m3.8 7.6h0m3.8-1.5h0m4.5 3h0m4.6-6.1h0m6.1-4.5h0m3.8-9.2h0m3.8-6.1h0m2.2-1.9h0m1.6-10.3h0m1.2-2.5h0m1.1-8.1h0m3.5-1.7h0m1.9-11.3h0m6.8 5.4h0m6.1 3h0m1.6 9.2h0m3 1.5h0m1.2 12.4h0m0.3 2.8h0"/>
<path class="w" d="M279.3 1491.8h0m8.1-16.4h0m-12 23.7h0m-2.2-1.4h0m-23.8-9.5h0m4.5 1.4h0m45.9 1.7h0m-52-3.3h0m-34.9 28.4h0m-2.3-3.1h0m16.9 8.4h0m1.2-1.9h0"/>
<path class="c0" d="M277.4 1442.3h0m30.8-43.3h0"/>
<path class="c1" d="M314.8 1532.6h0m-0.1-7h0m-0.4-7h0m0-7h0m0.6-7h0m-0.6-7h0m5.5 35.1h0m0.1-7h0m-0.6-7h0m-0.1-7h0m0.4-7h0m0.1-7h0m-0.4-7h0m-0.1-7h0m0.9-7h0m-0.1-7h0m-1.4-7h0m0.3-7h0m6.1 77.7h0m-1.1-7h0m0.5-7h0m0.3-7h0m-0.4-7h0m-0.4-7h0m5.3 34.8h0m-0.4-7h0m0.4-7h0m0.2-7h0m-0.5-7h0m5.8 27.5h0m0-7h0m-0.9-7h0m0.8-7h0m0-7h0m5 28.7h0m-0.6-7h0m0.4-7h0m0-7h0m-0.3-7h0m5.9 22.9h0m-0.9-7h0m0.5-7h0m-0.6-7h0m5.6 16h0m-0.7-7h0m6 12.1h0m4.5-5h0m5.4 9.6h0m-0.5-7h0m-0.4-7h0m0.9-7h0m-0.6-7h0m-0.4-7h0m1.2-7h0m5.1 42.3h0m-0.9-7h0m0.1-7h0m0.6-7h0m0.1-7h0m-0.4-7h0m-0.9-7h0m0.2-7h0m0.5-7h0m5.7 55.9h0m-1.1-7h0m0.4-7h0m-0.4-7h0m0-7h0m1-7h0m-0.3-7h0m-0.3-7h0m0.7-7h0m-1-7h0m5.3 62.6h0m0.5-7h0m-0.3-7h0m0.4-7h0m-0.2-7h0m-0.2-7h0m0.2-7h0m0-7h0m0-7h0m-0.1-7h0m5.4 63.1h0m-1.2-7h0m-0.3-7h0m0.9-7h0m0.3-7h0m-1-7h0m0.5-7h0m-0.5-7h0m6.3 49.1h0m-0.4-7h0m0.1-7h0m-0.1-7h0m0.2-7h0m-1.3-7h0m1.4-7h0m-1.3-7h0m6.2 48.7h0m-0.7-7h0m-0.4-7h0m1.2-7h0m-1-7h0m0.8-7h0m-0.5-7h0m0.1-7h0m4.4 49.6h0m0.2-7h0m0.8-7h0m-0.9-7h0m0.7-7h0m-0.5-7h0m-0.4-7h0m1.5-7h0m4.8 49h0m-1.1-7h0m0.2-7h0m0.2-7h0m0.4-7h0m0.4-7h0m-1.2-7h0m0.5-7h0m0-7h0m-90 8.9h0m0.2-4.6h0m1-10.7h0m-0.1-15.2h0m1.4-3.3h0m1.6-15h0m2.3 11.3h0m0.8 4h0m0.6 12.7h0m-1.4 4h0m2.3 9.2h0m1.8 11.2h0m2 2.5h0m4.6 7.6h0m4.5-3h0m4.6-3.9h0m4.6 6.9h0m4.6 7.6h0m3.8 9.2h0m5.3-3.1h0m2.3-2.9h0m0.7-9.3h0m0.7-2.5h0m0.9-12.7h0m2-3.3h0m2.5-12h0m4.6-7.6h0m6.9-3h0m1.8 9.6h0m2 1h0m4.5 4.6h0m6.1-1.5h0m0 0h0m4.6-1.5h0m4.6-1.6h0m4.6 0h0"/>
<path class="w" d="M389.2 1508.2h0m0.5-13.1h0m2.4-1.6h0m-0.7 26.2h0m-5.2-0.5h0m20.2-7.5h0m1.2-0.5h0"/>
<path class="c1" d="M363.8 1452.9h0m40-34.2h0m-0.7 9.1h0m0 9.2h0m-0.8 9.1h0m-0.7 9.1h0m3-50.2h0m5.3 53.3h0m1.3-89.8h0m-7.4 27h0"/>
<path class="c2" d="M417.1 1533.1h0m0.4-7h0m0.1-7h0m-0.1-7h0m-0.5-7h0m0.2-7h0m4.4 34.7h0m0.4-7h0m-0.4-7h0m-0.4-7h0m0.8-7h0m-0.9-7h0m0.9-7h0m0.3-7h0m4.7 48.8h0m0.2-7h0m-0.4-7h0m0.7-7h0m0-7h0m-1-7h0m0.4-7h0m-0.4-7h0m5.2 49.1h0m0-7h0m0-7h0m-0.3-7h0m0.4-7h0m5.8 23.2h0m-0.3-7h0m-0.8-7h0m-0.2-7h0m6.1 25.9h0m-0.8-7h0m0.8-7h0m-1.1-7h0m0.6-7h0m0.6-7h0m4.9 35h0m-0.8-7h0m0.9-7h0m-1.4-7h0m0.5-7h0m-0.1-7h0m0.6-7h0m3.9 42.1h0m0.3-7h0m-0.1-7h0m-0.1-7h0m0.3-7h0m-0.4-7h0m0.6-7h0m4.8 42.1h0m1.2-7h0m-1-7h0m0-7h0m-0.3-7h0m-0.2-7h0m0.2-7h0m6.3 41.9h0m-0.6-7h0m0.5-7h0m-0.4-7h0m-0.2-7h0m-0.5-7h0m5.7 35h0m-0.7-7h0m0.4-7h0m-0.3-7h0m-0.2-7h0m0.6-7h0m5.4 35h0m-0.5-7h0m0.7-7h0m-0.9-7h0m0.6-7h0m-0.2-7h0m-0.5-7h0m0.1-7h0m0.2-7h0m5.2 55.9h0m0.1-7h0m0.1-7h0m-0.7-7h0m0-7h0m0.6-7h0m0.1-7h0m-0.2-7h0m-1-7h0m5.7 56h0m-0.6-7h0m0.4-7h0m0.2-7h0m0.3-7h0m-0.8-7h0m1.3-7h0m-1.3-7h0m5 49.5h0m0.4-7h0m-0.2-7h0m0.8-7h0m-0.3-7h0m0.3-7h0m-0.9-7h0m0.7-7h0m5.5 48.9h0m-0.3-7h0m0.2-7h0m-0.8-7h0m0.4-7h0m-0.1-7h0m-0.7-7h0m0.6-7h0m4.3 48.5h0m1.5-7h0m-1.4-7h0m0.9-7h0m0.4-7h0m-0.8-7h0m0.2-7h0m0.6-7h0m4.8 49h0m-1.3-7h0m1.4-7h0m-0.8-7h0m-0.4-7h0m1.3-7h0m-0.6-7h0m5.3 42.3h0m-0.9-7h0m0.4-7h0m0.6-7h0m-0.9-7h0m-0.2-7h0m-0.2-7h0m5.1 42.4h0m1.2-7h0m-0.7-7h0m0.2-7h0m-0.3-7h0m1-7h0m-1.2-7h0m5 41.4h0m0.5-7h0m0.7-7h0m-0.2-7h0m-0.6-7h0m-0.3-7h0m0.4-7h0m5.5 41.9h0m0.1-7h0m-1.4-7h0m0.2-7h0m0.9-7h0m0-7h0m-0.1-7h0m-0.7-7h0m-104.5 2.5h0m2.3-2.9h0m2.3-9.3h0m4.5-3.1h0m1.9 10.7h0m1.2 1.5h0m2.3 9.8h0m2.3 2.4h0m4.5 4.6h0m2.4-0.9h0m1.4-9.8h0m3.1-9.9h0m5.3-0.7h0m5.3-1.6h0m3.9 9.2h0m4.5 6.1h0m4.6-9.2h0m3-9.1h0m3.4-3.1h0m-5-3h0m3-4.6h0m4.6 4.6h0m6.1 3h0m6.1 3.1h0m5.3 3h0m5.4 0h0m6.1 6.1h0m6.1 1.6h0m6.1-6.1h0m3.8-1.6h0"/>
<path class="w" d="M472.1 1511h0m3.4-24.6h0m-12.7 35.1h0m40.5-27.2h0m-4.7 0.4h0m-41 3.9h0m-0.5 3.2h0"/>
<path class="c2" d="M447.3 1446.9h0m1.5 5.3h0m24.4 9.9h0m-53.4-51.1h0m1.6 9.2h0m0.7 9.1h0m0 9.2h0m0.8 9.1h0m0.8 9.2h0m0.5-78.3h0m62 1.3h0m-65 26.2h0m102.1 55.3h0"/>
<path class="c3" d="M527.6 1533h0m0.4-7h0m0-7h0m-0.2-7h0m0.7-7h0m-0.3-7h0m5.8 34.7h0m-1.3-7h0m0.1-7h0m0.7-7h0m0.2-7h0m-0.7-7h0m1-7h0m4.6 41.9h0m-0.2-7h0m0.5-7h0m-0.5-7h0m0.3-7h0m-0.2-7h0m5.3 35.3h0m-0.1-7h0m0.3-7h0m-0.7-7h0m-0.6-7h0m0.8-7h0m0.5-7h0m3.8 42.2h0m1.1-7h0m-0.9-7h0m0.4-7h0m0-7h0m0.5-7h0m-1.2-7h0m6.3 35.9h0m-1.4-7h0m0.4-7h0m5.1 18.3h0m14.9 1.8h0m5.1-2.7h0m14.5 0.1h0m6.5 2.3h0m-0.2-7h0m-0.6-7h0m0.5-7h0m-0.2-7h0m4.6 15.7h0m4.9 12.4h0m-0.2-7h0m1.2-7h0m0-7h0m-1.3-7h0m0.9-7h0m4.8 35.4h0m0.5-7h0m-0.9-7h0m-0.4-7h0m1.2-7h0m-0.6-7h0m-0.2-7h0m0.6-7h0m5.4 48.9h0m-1.5-7h0m1.5-7h0m0-7h0m-1.4-7h0m1.4-7h0m-0.8-7h0m-0.3-7h0m5.6 48.9h0m0.2-7h0m0.2-7h0m-0.9-7h0m0.4-7h0m-0.8-7h0m0.1-7h0m1-7h0m-95.4 2.1h0m2.5-7.6h0m6.1 7.6h0m6.1-3.1h0m5.4-3.8h0m1 10h0m2.8 3h0m1.8 9.2h0m0.5 3h0m2.2 9.1h0m0.8 3.1h0m3.8 9.1h0m6.1 4.6h0m6.1-4.6h0m3.7-1.6h0m1.6-7.5h0m1.8 9.9h0m2.8 2.2h0m5.3 0h0m3.1-6h0m0.9-2.8h0m2.1-9.4h0m1.8-3.6h0m1.3-11.7h0m1.7 8.9h0m1.3 3.3h0m3.8 1.5h0m1.1-4.2h0m1.2-12.5h0m1.3-1.2h0m1-9.5h0m4.6-4.6h0m3.8-3h0m4.6-3.1h0m3 3.1h0"/>
<path class="w" d="M552.7 1513.8h0m59 8.7h0"/>
<path class="c3" d="M542.4 1457.5h0m26.6 35.8h0m56.4-84.2h0m-1.5 8h0m-0.8 8.4h0m-0.7 8.4h0m-0.8 8.4h0m-0.8 8.4h0m-0.7 8.3h0m4.1-0.7h0m-83.7-70.3h0"/>
<path class="c4" d="M627.4 1532.8h0m0.5-7h0m0.5-7h0m-0.5-7h0m-1-7h0m0.1-7h0m0.9-7h0m-0.1-7h0m-0.5-7h0m0.2-7h0m-0.5-7h0m5.2 70.3h0m-0.2-7h0m1-7h0m0-7h0m-0.9-7h0m0.1-7h0m0.4-7h0m0.4-7h0m4.5 49.2h0m0.1-7h0m0.9-7h0m-0.6-7h0m-0.5-7h0m-0.2-7h0m0.7-7h0m4.4 41.7h0m0.6-7h0m-0.9-7h0m1.5-7h0m-0.1-7h0m-1.2-7h0m5.3 35.3h0m1-7h0m-1.2-7h0m0.2-7h0m0.1-7h0m5.2 16.9h0m0-7h0m5 11.2h0m4.9 1.3h0m4.8-3.7h0m0-7h0m4.5 12.3h0m0.8-7h0m4.6 6.7h0m0.8-7h0m4.7 2.6h0m5-6.3h0m-0.4-7h0m4.5 21.9h0m0.7-7h0m0.5-7h0m-0.5-7h0m0.5-7h0m-0.6-7h0m4.9 34.5h0m0.1-7h0m-0.6-7h0m1-7h0m0.3-7h0m0.2-7h0m3.8 35.1h0m0-7h0m0-7h0m0.9-7h0m0-7h0m-0.5-7h0m0.6-7h0m4.6 42.5h0m-0.4-7h0m0.5-7h0m-0.5-7h0m0.6-7h0m-0.1-7h0m0.1-7h0m-79.9-14.3h0m-1.1-3.4h0m-0.3-7.6h0m0.9-12.6h0m1.6 16.6h0m2.2 4h0m3.1 3h0m5.3 6.1h0m3.8 9.2h0m6.1 6.1h0m1.4 9.7h0m3.2 2.5h0m6.1 6.1h0m3 0h0m4.6-7.7h0m6.1 7.7h0m6.1-3.1h0m2.8-0.2h0m3.3-8.9h0m3-9.2h0m4.6-6.1h0m4.6-6.1h0m4.5-3h0m4.6 1.5h0m2.3 1.5h0"/>
<path class="w" d="M688.1 1515.1h0"/>
<path class="c4" d="M664.3 1475h0m40.3-53.3h0m0.8 9.2h0m0 9.1h0m0 9.1h0m-0.8 9.2h0m-0.7 9.1h0"/>
<path class="c5" d="M712.1 1532.7h0m1-7h0m0-7h0m0.4-7h0m-1.4-7h0m5.1 27.9h0m0.3-7h0m0.9-7h0m-0.5-7h0m-0.7-7h0m1.1-7h0m-0.6-7h0m5.2 42.2h0m0.5-7h0m-0.1-7h0m-0.2-7h0m-0.9-7h0m0.3-7h0m0.6-7h0m4.7 42.1h0m-0.8-7h0m0.8-7h0m-0.3-7h0m-0.1-7h0m0.6-7h0m-0.9-7h0m5.6 41.9h0m0.4-7h0m-0.4-7h0m-0.4-7h0m-0.2-7h0m0.4-7h0m-0.5-7h0m0.1-7h0m5.4 49.1h0m0.4-7h0m-0.6-7h0m-0.2-7h0m0.9-7h0m-1.1-7h0m1-7h0m0.3-7h0m-1-7h0m0.1-7h0m4.7 62.9h0m0.5-7h0m0.5-7h0m0.5-7h0m-1.5-7h0m-0.1-7h0m1.1-7h0m0.1-7h0m-1-7h0m0.7-7h0m4.2 63.1h0m1.4-7h0m-1.2-7h0m1.2-7h0m-0.2-7h0m-0.1-7h0m-0.3-7h0m0.4-7h0m-1.1-7h0m1-7h0m5.3 63.5h0m-0.6-7h0m0.6-7h0m-0.1-7h0m-0.5-7h0m0.4-7h0m0-7h0m-1.2-7h0m1.3-7h0m-0.5-7h0m0.3-7h0m-0.2-7h0m4.6 76.9h0m0.4-7h0m-0.4-7h0m-0.4-7h0m0.3-7h0m0.3-7h0m-0.1-7h0m-0.3-7h0m-0.3-7h0m0.5-7h0m5 62.5h0m1-7h0m-0.7-7h0m-0.5-7h0m0.4-7h0m0.8-7h0m-1.5-7h0m1.4-7h0m-0.1-7h0m-0.1-7h0m0.1-7h0m4.9 70.5h0m-1.1-7h0m0.2-7h0m-0.2-7h0m1.4-7h0m-0.6-7h0m0.2-7h0m-0.3-7h0m0.5-7h0m-0.7-7h0m0.9-7h0m-0.2-7h0m-1-7h0m-54.6 46h0m2.3-1.4h0m0.3-10.8h0m4.6-6.1h0m6.1 4.6h0m6.1-7.6h0m1.8-4.1h0m2.7-11.1h0m3.4 1.5h0m-5 3h0m4.6-1.5h0m6.1-1.5h0m3.9-2.2h0m2.9-9.2h0m2 7.5h0m3.4 2.4h0m6.1-6.1h0m2.3-3.3h0m2.2-12h0m1.2 9.9h0m1.9 2.3h0"/>
<path class="w" d="M727.6 1499.6h0m-2.1 2.3h0m-14.4 14.2h0m20.7-24.9h0m0.7 3.2h0m-19.9 24.3h0"/>
<path class="c5" d="M773.2 1347.8h0"/>
<path class="c6" d="M778 1533.4h0m0.3-7h0m-1.2-7h0m1-7h0m0.3-7h0m-0.9-7h0m0.9-7h0m-0.4-7h0m-0.9-7h0m0.3-7h0m0.8-7h0m5.1 69.7h0m-1.2-7h0m0.7-7h0m-0.2-7h0m0.7-7h0m0.2-7h0m-0.8-7h0m0-7h0m0-7h0m0.3-7h0m-0.4-7h0m0.1-7h0m4.8 76.6h0m1-7h0m-0.2-7h0m-0.9-7h0m0.7-7h0m-0.8-7h0m-0.3-7h0m0.4-7h0m0.1-7h0m0.1-7h0m0.2-7h0m-0.8-7h0m5.5 77.2h0m0.8-7h0m-0.8-7h0m0.6-7h0m-0.4-7h0m0.3-7h0m-1-7h0m1-7h0m-0.9-7h0m0.8-7h0m-0.5-7h0m0.2-7h0m4.5 77.3h0m0.7-7h0m0.3-7h0m-0.1-7h0m-0.2-7h0m0-7h0m-0.6-7h0m0.9-7h0m-1-7h0m0-7h0m1.2-7h0m3.9 69.5h0m0-7h0m-0.1-7h0m0-7h0m0.5-7h0m-0.4-7h0m5 35.5h0m0.9-7h0m-0.3-7h0m-0.4-7h0m0.8-7h0m-1.3-7h0m5.7 34.5h0m0.2-7h0m-0.3-7h0m-0.1-7h0m0.8-7h0m4.3 28.1h0m0.8-7h0m-0.1-7h0m-0.2-7h0m-0.7-7h0m5.1 28.3h0m-0.5-7h0m0.1-7h0m-0.1-7h0m1.3-7h0m-0.2-7h0m5.1 34.8h0m-0.9-7h0m0.7-7h0m0.1-7h0m0.1-7h0m0.3-7h0m-1.4-7h0m6.1 42.3h0m-0.2-7h0m-0.3-7h0m-0.2-7h0m0.8-7h0m-1.1-7h0m0.4-7h0m0-7h0m4.8 48.6h0m0.9-7h0m-0.6-7h0m-0.2-7h0m1-7h0m-0.7-7h0m-0.1-7h0m0.1-7h0m4.5 49.5h0m0.1-7h0m0-7h0m-0.2-7h0m-0.1-7h0m1.2-7h0m0-7h0m-1-7h0m0.8-7h0m4 55.6h0m0.2-7h0m1.1-7h0m-0.6-7h0m-0.2-7h0m0.2-7h0m0.5-7h0m-0.2-7h0m-1-7h0m0.6-7h0m4.5 63.4h0m0.9-7h0m-1.1-7h0m1-7h0m0.3-7h0m-0.4-7h0m-0.9-7h0m1.3-7h0m0.1-7h0m0.1-7h0m-0.7-7h0m0.1-7h0m-75.1-0.6h0m3-9.9h0m4.6-0.8h0m4.6 3.1h0m4.5-1.5h0m4.6 9.1h0m-0.1 12.8h0m1.6 2.4h0m0.4 12.8h0m1.1 2.5h0m6.1 6.1h0m6.1 3h0m6.1-6.1h0m4.6-6.1h0m5.3-6.1h0m5.4-3h0m4.5-6.1h0m4.6-7.6h0m4.6-6.1h0m3.8-6.9h0m3.8 8.4h0"/>
<path class="w" d="M851.6 1500.9h0m0.6 3.1h0m-15.1 14.4h0m-9.4 0h0m0.3 3.2h0m-30.5-42.8h0m2-2.6h0m48.5 37h0m-3.3-1.2h0m-56.3-5.3h0m-2.2 2.8h0"/>
<path class="c6" d="M779.2 1412.6h0m44.2 28.9h0m12.9 3.1h0m-6.1 15.2h0m25.2-40.4h0m5.3 3.1h0m-64.8-11.5h0m0 9.2h0m0 9.1h0m-0.3 8.4h0m-8.6-168.7h0m-5 54.5h0m73.8 62.5h0"/>
<path class="c7" d="M861.3 1533.1h0m0.6-7h0m-0.8-7h0m-0.6-7h0m0.2-7h0m0-7h0m0-7h0m0-7h0m0-7h0m4.8 55.8h0m0.1-7h0m0.3-7h0m0.5-7h0m0.2-7h0m-0.4-7h0m-0.5-7h0m0-7h0m1-7h0m-0.2-7h0m-0.1-7h0m4.5 70h0m-0.3-7h0m1.2-7h0m-1.2-7h0m0.6-7h0m-0.6-7h0m1.2-7h0m-0.3-7h0m-0.5-7h0m-0.1-7h0m0.5-7h0m0.3-7h0m3.8 76.9h0m1.2-7h0m-0.2-7h0m-0.4-7h0m0.6-7h0m-1.3-7h0m1.1-7h0m-0.6-7h0m-0.3-7h0m1.2-7h0m-0.7-7h0m-0.2-7h0m5.7 76.9h0m-0.4-7h0m0-7h0m0-7h0m-0.6-7h0m0-7h0m1-7h0m-0.5-7h0m0.3-7h0m-0.8-7h0m6.3 63.3h0m-0.6-7h0m-0.2-7h0m-0.6-7h0m1.2-7h0m-0.8-7h0m-0.1-7h0m0.3-7h0m4.3 49h0m1.3-7h0m-1.3-7h0m0-7h0m0.4-7h0m0.8-7h0m5.3 34.9h0m-0.9-7h0m0.2-7h0m-0.5-7h0m-0.1-7h0m5.7 28.1h0m-0.4-7h0m-0.5-7h0m1.2-7h0m-1.2-7h0m6.3 28.2h0m-0.1-7h0m-0.8-7h0m-0.2-7h0m0.2-7h0m5 28.1h0m0.1-7h0m-0.1-7h0m-0.3-7h0m1.2-7h0m5.1 18.5h0m0.1-7h0m3.8 3.1h0m1-7h0m4.4 10.7h0m4.6 1.3h0m5.5 0.5h0m-0.3-7h0m5 6.7h0m0-7h0m4.8 6.2h0m1.2-7h0m-1.3-7h0m5.6 14.1h0m-0.4-7h0m0.8-7h0m4.7 10.4h0m-0.2-7h0m4.5 19.6h0m0.9-7h0m0-7h0m-0.1-7h0m-0.9-7h0m5.9 27.5h0m-1-7h0m1.1-7h0m0.4-7h0m-0.3-7h0m-0.8-7h0m4.6 35.3h0m0.2-7h0m-0.1-7h0m0.7-7h0m0.5-7h0m-0.2-7h0m-0.3-7h0m4.6 41.6h0m0.1-7h0m1-7h0m-1.4-7h0m1.1-7h0m0.3-7h0m-1.3-7h0m0.1-7h0m-0.1-7h0m6.1 56.2h0m-1.2-7h0m0.1-7h0m1-7h0m-0.8-7h0m-0.1-7h0m1-7h0m-0.2-7h0m-0.8-7h0m0.1-7h0m-0.4-7h0m-119.2 4.9h0m1.5-1.9h0m1.8-10.3h0m4.6-7.6h0m3.8-8.4h0m2.7 7.8h0m1.9 2.1h0m2.9 9.9h0m0.9 2.3h0m3.8 9.1h0m1 9.2h0m2.8 1.5h0m4.6 9.2h0m4.5 3h0m4.6 1.5h0m8.4 2.3h0m5.3 8.4h0m6.1-1.5h0m2.9 7.5h0m3.2 1.6h0m6.1-1.5h0m6.1-3.1h0m4.6-6.1h0m4.5-3.8h0m6.1 2.3h0m4.6-6.1h0m4.6-9.1h0m3-5.3h0m4.6-5.4h0m4.6-7.6h0m1.1-2.3h0m1.9-9.9h0m1.5-3h0"/>
<path class="w" d="M911.6 1520.3h0m-2.3 2.6h0m-21.4-6h0m-4.8-0.9h0m-12.1-18.4h0m-0.7-3.1h0m76.7 22.8h0m-2.1 2.9h0m-68.5-0.1h0m-3.3 1h0"/>
<path class="c7" d="M870.6 1408h0m114.3 30.5h0m-117.1-63.3h0m121 8.8h0"/>
<path class="c8" d="M991.6 1532.9h0m0.7-7h0m0.6-7h0m-1.4-7h0m1.4-7h0m-0.3-7h0m-1.1-7h0m0.2-7h0m1.3-7h0m4.6 56.1h0m0.2-7h0m0.1-7h0m-0.8-7h0m0-7h0m-0.1-7h0m5 34.7h0m0.5-7h0m-0.4-7h0m-0.4-7h0m0.6-7h0m4.5 28.6h0m1-7h0m-0.5-7h0m0.4-7h0m-0.2-7h0m-0.5-7h0m4.8 34.9h0m0.8-7h0m-0.2-7h0m-0.2-7h0m0.7-7h0m0-7h0m0.1-7h0m4.4 41.7h0m-0.8-7h0m0.1-7h0m1.2-7h0m-1.3-7h0m0.6-7h0m-0.7-7h0m0.5-7h0m0.1-7h0m5.3 56.1h0m-0.4-7h0m0.2-7h0m0.1-7h0m-0.5-7h0m1-7h0m-0.8-7h0m0.2-7h0m-0.4-7h0m0.4-7h0m4.7 63.2h0m0.8-7h0m-0.9-7h0m0.9-7h0m-0.6-7h0m-0.2-7h0m0.7-7h0m-0.2-7h0m-0.4-7h0m-0.2-7h0m0.6-7h0m4.9 69.7h0m-0.1-7h0m-0.2-7h0m0-7h0m0.7-7h0m-0.6-7h0m-0.5-7h0m-0.1-7h0m0.3-7h0m0.8-7h0m-0.9-7h0m0.1-7h0m5.9 76.8h0m-0.4-7h0m-0.1-7h0m0.1-7h0m0.6-7h0m-0.1-7h0m-1.1-7h0m0.7-7h0m4.6 49h0m0.8-7h0m-0.9-7h0m-0.5-7h0m1.4-7h0m-0.8-7h0m6 35.2h0m-0.7-7h0m0.1-7h0m-0.6-7h0m0.6-7h0m0.5-7h0m4.6 35h0m0.1-7h0m-0.2-7h0m-0.1-7h0m0.4-7h0m-1.3-7h0m5.6 34.8h0m-0.2-7h0m0.8-7h0m-0.9-7h0m0.2-7h0m1-7h0m0.1-7h0m-1.1-7h0m-0.2-7h0m5.8 56h0m0.3-7h0m-0.6-7h0m-0.6-7h0m1.2-7h0m-1-7h0m-0.1-7h0m0.3-7h0m0.3-7h0m-0.2-7h0m-0.4-7h0m1.3-7h0m4.8 77.4h0m-0.1-7h0m-0.6-7h0m0.2-7h0m-0.5-7h0m1-7h0m-1-7h0m0.7-7h0m0.5-7h0m-0.2-7h0m-0.7-7h0m0.7-7h0m0.1-7h0m-0.2-7h0m-75.5 28.8h0m-0.7-2.5h0m1-9.6h0m2.1 9.3h0m1 2.8h0m0.8 12.6h0m0.7 2.7h0m4.5 9.1h0m3.4 0h0m0-3h0m3.3-1.3h0m1.3-9.4h0m4.5-7.6h0m3.5-2.1h0m2.6-8.6h0m2.1-1.2h0m4-7.9h0m6.1-6.1h0m2.2 9.1h0m0.9 1.6h0m0.1 12.6h0m2.2 2.6h0m1.6 8.7h0m2.2 2h0m4.5 3h0m4.6 1.5h0m0.7-3h0m3.1-13.7h0m2.6-1.5h0m1.2-10.7h0m2.5-2h0m0.6-8.7h0m2.5-1.5h0m0.5-9.1h0m2.6-2.9h0m2-8.6h0m0.7 10h0m0.8 3h0"/>
<path class="w" d="M1011.1 1509.1h0m32.8 12h0m-3.9-2.4h0m6.2 0.8h0m-47.4 1.8h0m-4.8-0.1h0m67.4-43.7h0m-68.9 25h0"/>
<path class="c9" d="M1070.8 1532.6h0m-0.6-7h0m0.4-7h0m0.3-7h0m0.2-7h0m0.4-7h0m3.8 35h0m0.3-7h0m1-7h0m-0.9-7h0m1.1-7h0m-0.3-7h0m0-7h0m4 42.2h0m0.5-7h0m0.2-7h0m-0.2-7h0m-0.6-7h0m1-7h0m0.1-7h0m4.4 42h0m0.7-7h0m0-7h0m-1.4-7h0m1.3-7h0m0-7h0m-0.6-7h0m5 42.2h0m-0.3-7h0m-0.4-7h0m0.8-7h0m0.3-7h0m0-7h0m-0.6-7h0m1-7h0m-1.3-7h0m6.3 56.3h0m-1.4-7h0m0.9-7h0m-0.8-7h0m0-7h0m5.9 16.8h0m0.4-7h0m3.8 4.7h0m6.2 3.4h0m3.9 5.4h0m4.6 2.7h0m5-1.8h0m1-7h0m4.9 1.3h0m-0.1-7h0m4.9 7h0m4.6-2.7h0m5.1 0.8h0m1.1-7h0m-0.4-7h0m5.3 25.2h0m0-7h0m0-7h0m-1.2-7h0m0.3-7h0m-0.1-7h0m1.2-7h0m-1.1-7h0m6 49.1h0m-0.1-7h0m-1.2-7h0m0.1-7h0m0.1-7h0m-0.1-7h0m0.3-7h0m-0.2-7h0m-84.6 5h0m2.6-6.1h0m7.6-1.5h0m6.1-4.6h0m3.8-8.3h0m2.8 9.1h0m1 2.3h0m1.1 11.1h0m0.4 4.1h0m1.7 9.8h0m1.4 2.4h0m9.1 0h0m6.1 7.6h0m7.6 4.6h0m4.6-6.1h0m5.3-6.1h0m5.4 6.1h0m4.5-6.1h0m4.6-7.6h0m0.2-3.2h0m2.1-10.5h0m0.5-2.5h0m1.8-8.2h0m3.8-4.6h0m2.3 3.1h0"/>
<path class="w" d="M1087.6 1505.9h0m68.6-3.6h0"/>
<path class="c9" d="M1076.6 1438.5h0m0 22.8h0m79.2-48.7h0m-0.7 9.1h0m0 9.2h0m0 9.9h0m0.4 9.1h0m0.3 9.1h0"/>
<path class="c10" d="M1162.4 1533.3h0m0.1-7h0m1-7h0m-1-7h0m0.6-7h0m0.7-7h0m-0.2-7h0m-1-7h0m5.1 49h0m-0.3-7h0m0.1-7h0m0.3-7h0m0.6-7h0m0.4-7h0m-0.3-7h0m0.1-7h0m-0.7-7h0m4.7 56h0m1.1-7h0m-0.6-7h0m-0.2-7h0m-0.2-7h0m1-7h0m-0.4-7h0m0.1-7h0m-0.8-7h0m5.6 55.6h0m-0.3-7h0m-0.5-7h0m1.2-7h0m-0.6-7h0m0.1-7h0m0.5-7h0m0-7h0m4.7 49.2h0m0.1-7h0m-1-7h0m0.4-7h0m0.3-7h0m0-7h0m0.5-7h0m4.5 42.2h0m0.2-7h0m0.2-7h0m0.1-7h0m-0.6-7h0m0.9-7h0m4.5 34.7h0m0-7h0m-0.8-7h0m0.7-7h0m0.4-7h0m3.8 28.2h0m0.2-7h0m0.8-7h0m-0.4-7h0m0.5-7h0m5.2 28h0m-40.6-59.2h0m3.3-6.1h0m5.3-1.5h0m3.9 4.5h0m5.3 7.7h0m5.3 7.6h0m6.1 7.6h0m5.3 2.3h0m1.6 9.8h0m2.3 1.6h0m-0.2 12h0m1.7 3.3h0m0.7 9.1h0m21.1-1.3h0m4.9-12.6h0m5 5.6h0m-0.4-7h0m5.5 16.6h0m-0.4-7h0m0.5-7h0m-1.1-7h0m0.5-7h0m-0.7-7h0m0.1-7h0m0.8-7h0m5.5 49.1h0m-1.1-7h0m1-7h0m-0.9-7h0m-0.5-7h0m1-7h0m0.2-7h0m0.3-7h0m3.9 49.1h0m0.8-7h0m-0.7-7h0m1-7h0m-0.6-7h0m0.6-7h0m-0.3-7h0m-0.9-7h0m5.2 49h0m0.6-7h0m-0.1-7h0m0.2-7h0m0.2-7h0m-1.1-7h0m1-7h0m-1.1-7h0m1.3-7h0m4 55.8h0m0.2-7h0m0.6-7h0m-0.1-7h0m0.3-7h0m-1-7h0m0.2-7h0m-0.5-7h0m0.3-7h0m0.7-7h0m4.2 63.2h0m0.3-7h0m-0.1-7h0m-0.3-7h0m0.2-7h0m1-7h0m-0.2-7h0m-1-7h0m1.2-7h0m0.1-7h0m4.7 62.5h0m-0.9-7h0m0.6-7h0m-0.3-7h0m0-7h0m0.3-7h0m0-7h0m0.5-7h0m-1.2-7h0m0.4-7h0m0-7h0m-44.9 56.8h0m1.1-4.9h0m0.4-14.9h0m4.6 7.6h0m6.1 3.1h0m6.1-3.1h0m6.1-6.1h0m3-9.1h0m-3-9.2h0m-6.1-3h0m-6.1-3.1h0m6.1-3h0m7.6-3.1h0m6.1-6h0m4.6-6.1h0m7.6-3.1h0m3 3.1h0"/>
<path class="w" d="M1177.4 1514.6h0m1 3.1h0m19.2-2.1h0m2.2-2.7h0m69.5 5.5h0"/>
<path class="c10" d="M1224.4 1456.8h0m9.9 2.2h0m-3.8 6.9h0m-64-33.5h0m0.5 9.1h0m0.7 9.2h0m1.1 7.6h0m1.2-113.5h0"/>
</g>
<line class="v d" x1="300.5" x2="300.5" y1="1257.4" y2="1545.5"/>
<line class="v d" x1="301.5" x2="301.5" y1="1257.4" y2="1545.5"/>
<line class="v d" x1="396.8" x2="396.8" y1="1257.4" y2="1545.5"/>
<line class="v d" x1="409.2" x2="409.2" y1="1257.4" y2="1545.5"/>
<line class="v d" x1="758.2" x2="758.2" y1="1257.4" y2="1545.5"/>
<line class="v d" x1="772" x2="772" y1="1257.4" y2="1545.5"/>
<line class="v d" x1="786.8" x2="786.8" y1="1257.4" y2="1545.5"/>
<line class="v d" x1="836.2" x2="836.2" y1="1257.4" y2="1545.5"/>
<line class="v d" x1="1051.8" x2="1051.8" y1="1257.4" y2="1545.5"/>
<line class="v" x1="786.8" x2="786.8" y1="1257.4" y2="1545.5"/>
<line class="h" x1="208.8" x2="1271.4" y1="1315.4" y2="1315.4"/>
</g>
<rect class="f" x="208.8" y="1257.4" width="1062.6" height="288.1"/>
<line class="k" x1="197.8" x2="207.3" y1="1533.8" y2="1533.8"/>
<text class="t" text-anchor="end" x="190.6" y="1544">0</text>
<line class="k" x1="197.8" x2="207.3" y1="1463" y2="1463"/>
<text class="t" text-anchor="end" x="190.6" y="1473.2">2</text>
<line class="k" x1="197.8" x2="207.3" y1="1392.3" y2="1392.3"/>
<text class="t" text-anchor="end" x="190.6" y="1402.5">4</text>
<line class="k" x1="197.8" x2="207.3" y1="1321.5" y2="1321.5"/>
<text class="t" text-anchor="end" x="190.6" y="1331.8">6</text>
<text class="s" text-anchor="middle" transform="translate(108.8 1402) rotate(-90)">Yield_scaled</text>
<line class="k" x1="260" x2="260" y1="1546.5" y2="1556.2"/>
<text class="t" text-anchor="middle" x="260" y="1584.2">Chr1</text>
<line class="k" x1="365" x2="365" y1="1546.5" y2="1556.2"/>
<text class="t" text-anchor="middle" x="365" y="1584.2">Chr2</text>
<line class="k" x1="472.3" x2="472.3" y1="1546.5" y2="1556.2"/>
<text class="t" text-anchor="middle" x="472.3" y="1584.2">Chr3</text>
<line class="k" x1="577.7" x2="577.7" y1="1546.5" y2="1556.2"/>
<text class="t" text-anchor="middle" x="577.7" y="1584.2">Chr4</text>
<line class="k" x1="669.8" x2="669.8" y1="1546.5" y2="1556.2"/>
<text class="t" text-anchor="middle" x="669.8" y="1584.2">Chr5</text>
<line class="k" x1="744.3" x2="744.3" y1="1546.5" y2="1556.2"/>
<text class="t" text-anchor="middle" x="744.3" y="1584.2">Chr6</text>
<line class="k" x1="817.7" x2="817.7" y1="1546.5" y2="1556.2"/>
<text class="t" text-anchor="middle" x="817.7" y="1584.2">Chr7</text>
<line class="k" x1="924.9" x2="924.9" y1="1546.5" y2="1556.2"/>
<text class="t" text-anchor="middle" x="924.9" y="1584.2">Chr8</text>
<line class="k" x1="1030" x2="1030" y1="1546.5" y2="1556.2"/>
<text class="t" text-anchor="middle" x="1030" y="1584.2">Chr9</text>
<line class="k" x1="1115.6" x2="1115.6" y1="1546.5" y2="1556.2"/>
<text class="t" text-anchor="middle" x="1115.6" y="1584.2">Chr10</text>
<line class="k" x1="1217.3" x2="1217.3" y1="1546.5" y2="1556.2"/>
<text class="t" text-anchor="middle" x="1217.3" y="1584.2">Chr11</text>
<text class="n" text-anchor="middle" x="740.2" y="1624">SNP marker</text>
<text class="a" text-anchor="middle" transform="translate(45.5 783.8) rotate(-90)">–log<tspan font-size="26.5" dy="6.5">10</tspan><tspan dy="-6.5">(</tspan><tspan font-style="italic">p</tspan>)</text>
<g clip-path="url(#q0)">
<path class="q" d="M1453.2 303.8h0m2.5-0.5h0m2.5-0.5h0m2.4-0.5h0m2.5-0.5h0m2.5-0.5h0m2.4-0.5h0m2.5-0.5h0m2.5-0.5h0m2.5-0.5h0m2.4-0.5h0m2.5-0.5h0m2.5-0.4h0m2.5-0.5h0m2.4-0.4h0m2.5-0.5h0m2.5-0.4h0m2.4-0.4h0m2.5-0.5h0m2.5-0.4h0m2.5-0.5h0m2.4-0.4h0m2.5-0.5h0m2.5-0.4h0m2.5-0.4h0m2.4-0.4h0m2.5-0.4h0m2.5-0.5h0m2.4-0.4h0m2.5-0.4h0m2.5-0.4h0m2.5-0.4h0m2.4-0.5h0m2.5-0.4h0m2.5-0.4h0m2.5-0.4h0m2.4-0.5h0m2.5-0.4h0m2.5-0.4h0m2.4-0.4h0m2.5-0.4h0m2.5-0.5h0m2.5-0.4h0m2.4-0.4h0m2.5-0.4h0m2.3-0.4h0m2.2-0.3h0m2.3-0.4h0m2.3-0.4h0m2.2-0.3h0m2.3-0.4h0m2.7-0.7h0m2.7-0.7h0m2.8-0.6h0m2.7-0.7h0m1.8-1.4h0m1.8-1.3h0m1.8-1.4h0m1.8-2.3h0m1.9-2.2h0m1.8-2.3h0m1.6-1.9h0m1.6-1.9h0m1.7-1.9h0m1.6-1.9h0m1.6-1.9h0m2.2-1.6h0m2.2-1.7h0m2.2-1.6h0m2.1-1.6h0m2.2-1.7h0m1.9-1.4h0m1.9-1.5h0m1.9-1.5h0m1.9-1.4h0m1.9-1.5h0m2.4-1.4h0m2.4-1.3h0m2.4-1.4h0m2.4-1.4h0m2-1.2h0m2-1.2h0m2.1-1.2h0m2-1.3h0m2-0.9h0m2-0.9h0m2-0.9h0m0.9-2.1h0m0.9-2h0m0.9-2.1h0m3.6-25.9h0m4.6-6.5h0m5.4-3.5h0m6.5-9h0m7.9-45.2h0m11.5-82.1h0m19.3-5.5h0"/>
<line class="r" x1="1440.9" y1="304.9" x2="1728.8" y2="273.1"/>
</g>
<rect class="f" x="1443.3" y="35.4" width="279.2" height="279.2"/>
<line class="k" x1="1432.6" x2="1441.8" y1="303.5" y2="303.5"/>
<text class="u" text-anchor="end" x="1425.3" y="315.4">0</text>
<line class="k" x1="1432.6" x2="1441.8" y1="231" y2="231"/>
<text class="u" text-anchor="end" x="1425.3" y="242.9">10</text>
<line class="k" x1="1432.6" x2="1441.8" y1="158.5" y2="158.5"/>
<text class="u" text-anchor="end" x="1425.3" y="170.4">20</text>
<line class="k" x1="1432.6" x2="1441.8" y1="86" y2="86"/>
<text class="u" text-anchor="end" x="1425.3" y="97.9">30</text>
<g clip-path="url(#q1)">
<path class="q" d="M1453.2 604.8h0m2.5-0.5h0m2.5-0.4h0m2.4-0.5h0m2.5-0.5h0m2.5-0.5h0m2.4-0.4h0m2.5-0.5h0m2.5-0.5h0m2.5-0.4h0m2.4-0.5h0m2.5-0.5h0m2.5-0.4h0m2.5-0.5h0m2.4-0.5h0m2.5-0.5h0m2.5-0.4h0m2.4-0.5h0m2.5-0.5h0m2.5-0.4h0m2.5-0.5h0m2.4-0.5h0m2.5-0.4h0m2.5-0.4h0m2.5-0.4h0m2.4-0.4h0m2.5-0.4h0m2.5-0.4h0m2.4-0.4h0m2.5-0.4h0m2.5-0.4h0m2.5-0.4h0m2.4-0.4h0m2.5-0.4h0m2.5-0.4h0m2.5-0.4h0m2.4-0.4h0m2.5-0.4h0m2.5-0.4h0m2.4-0.4h0m2.5-0.4h0m2.5-0.4h0m2.5-0.4h0m2.4-0.4h0m2.5-0.3h0m2.5-0.5h0m2.5-0.4h0m2.4-0.4h0m2.5-0.4h0m2.5-0.4h0m2.4-0.5h0m2.5-0.4h0m2.5-0.4h0m2.5-0.4h0m2.4-0.5h0m2.5-0.4h0m2.3-0.6h0m2.2-0.6h0m2.3-0.7h0m2.3-0.6h0m2.2-0.6h0m2.3-0.7h0m2.1-1.4h0m2-1.4h0m2-1.5h0m2.1-1.4h0m2-1.4h0m2.1-1.3h0m2-1.4h0m2-1.3h0m2.1-1.1h0m2-1h0m2.1-1h0m2-1h0m2.3-1.1h0m2.2-1.1h0m2.3-1.1h0m3.3-12.5h0m6.2-4.6h0m5.5-1.9h0m5.4-0.8h0m5.4-0.6h0m5.5-0.2h0m7-1.1h0m8.5 0.5h0m10.9-11.7h0m19.3-178.7h0"/>
<line class="r" x1="1440.9" y1="605.5" x2="1728.8" y2="571.1"/>
</g>
<rect class="f" x="1443.3" y="335.8" width="279.2" height="279.2"/>
<line class="k" x1="1432.6" x2="1441.8" y1="603.9" y2="603.9"/>
<text class="u" text-anchor="end" x="1425.3" y="615.8">0</text>
<line class="k" x1="1432.6" x2="1441.8" y1="525.8" y2="525.8"/>
<text class="u" text-anchor="end" x="1425.3" y="537.7">10</text>
<line class="k" x1="1432.6" x2="1441.8" y1="447.6" y2="447.6"/>
<text class="u" text-anchor="end" x="1425.3" y="459.5">20</text>
<line class="k" x1="1432.6" x2="1441.8" y1="369.5" y2="369.5"/>
<text class="u" text-anchor="end" x="1425.3" y="381.4">30</text>
<g clip-path="url(#q2)">
<path class="q" d="M1453.2 905.6h0m2.3-1.1h0m2.2-1h0m2.3-1.1h0m2.3-1.1h0m2.2-1h0m2.3-1.1h0m2.3-1h0m2.2-1.1h0m2.3-1.1h0m2.3-1h0m2.2-1.1h0m2.3-1.1h0m2.3-1h0m2.2-1h0m2.3-1h0m2.3-1h0m2.2-1h0m2.3-1h0m2.3-1h0m2.2-1h0m2.3-1h0m2.3-0.9h0m2.2-1h0m2.3-1h0m2.3-1h0m2.2-0.9h0m2.3-1h0m2.3-1h0m2.2-0.9h0m2.3-1h0m2.3-0.9h0m2.2-1h0m2.3-0.9h0m2.3-1h0m2.2-0.9h0m2.3-1h0m2.3-1h0m2.2-1h0m2.3-1h0m2.3-1h0m2.2-1.1h0m2.3-1h0m2.3-1h0m2.2-1h0m2.3-1h0m2.3-1.1h0m2.2-1h0m2.3-1h0m2.3-1.3h0m2.4-1.2h0m2.3-1.2h0m2.3-1.3h0m2.4-1.2h0m2.3-1.3h0m2.3-1.2h0m2.3-1.1h0m2.3-1.2h0m2.2-1.1h0m2.3-1.1h0m2.3-1.2h0m2.2-1.1h0m2.2-1.1h0m2.2-1.1h0m2.2-1.1h0m2.1-1.1h0m2.2-1.1h0m1.7-1.7h0m1.7-1.7h0m1.7-1.7h0m1.7-1.7h0m1.4-2h0m1.3-2h0m1.4-2.1h0m1.4-2h0m0.8-2.2h0m0.8-2.2h0m0.8-2.1h0m0.8-2.2h0m0.8-2.2h0m0.6-2.7h0m0.5-2.7h0m0.6-2.8h0m0.5-2.7h0m1.5-1.8h0m1.6-1.8h0m1.5-1.8h0m1.4-1.8h0m1.4-1.8h0m1.3-1.9h0m1.4-2.2h0m1.3-2.3h0m1.4-2.3h0m1.4-2h0m1.3-2.1h0m1.4-2.1h0m3.5-14.7h0m4.1-10.9h0m4.6-8.1h0m5.5-0.9h0m5.4-4h0m4.1-15.5h0m7-8.7h0m8.5-16.6h0m11.1-13.6h0m19.1-35.4h0"/>
<line class="r" x1="1440.9" y1="908.3" x2="1728.8" y2="817.3"/>
</g>
<rect class="f" x="1443.3" y="636.1" width="279.2" height="279.2"/>
<line class="k" x1="1432.6" x2="1441.8" y1="904.2" y2="904.2"/>
<text class="u" text-anchor="end" x="1425.3" y="916.1">0</text>
<line class="k" x1="1432.6" x2="1441.8" y1="821.4" y2="821.4"/>
<text class="u" text-anchor="end" x="1425.3" y="833.3">4</text>
<line class="k" x1="1432.6" x2="1441.8" y1="738.6" y2="738.6"/>
<text class="u" text-anchor="end" x="1425.3" y="750.5">8</text>
<line class="k" x1="1432.6" x2="1441.8" y1="655.8" y2="655.8"/>
<text class="u" text-anchor="end" x="1425.3" y="667.7">12</text>
<g clip-path="url(#q3)">
<path class="q" d="M1455.9 1204.8h0m2.3-1.2h0m2.2-1.2h0m2.2-1.2h0m2.2-1.2h0m2.3-1.1h0m2.2-1.2h0m2.2-1.2h0m2.2-1.2h0m2.3-1.2h0m2.2-1.2h0m2.2-1.2h0m2.3-1.1h0m2.2-1.1h0m2.3-1.1h0m2.3-1.1h0m2.2-1.1h0m2.3-1.1h0m2.3-1.1h0m2.2-1.1h0m2.3-1.2h0m2.3-1.1h0m2.2-1.1h0m2.3-1.1h0m2.3-1.1h0m2.2-1.2h0m2.3-1.2h0m2.3-1.1h0m2.2-1.2h0m2.3-1.1h0m2.3-1.2h0m2.2-1.1h0m2.3-1.2h0m2.3-1.2h0m2.2-1.1h0m2.3-1.2h0m2.3-1.1h0m2.2-1.2h0m2.3-1.2h0m2.3-1.2h0m2.2-1.2h0m2.3-1.1h0m2.3-1.2h0m2.2-1.2h0m2.3-1.2h0m2.3-1.2h0m2.2-1.1h0m2.3-1.2h0m2.3-1.1h0m2.4-1h0m2.3-1.1h0m2.3-1h0m2.4-1.1h0m2.3-1h0m2.3-1.1h0m2.3-0.9h0m2.3-1h0m2.2-1h0m2.3-1h0m2.3-1h0m2.2-1h0m2.1-1.3h0m2-1.2h0m2.1-1.2h0m2-1.2h0m1.4-2.1h0m1.3-2h0m1.4-2.1h0m1.3-2h0m2.8-0.5h0m2.7-0.4h0m2.7-0.5h0m2.7-0.5h0m2.4-1.2h0m2.4-1.2h0m2.4-1.3h0m2.3-1.2h0m1.7-1.7h0m1.7-1.7h0m1.7-1.7h0m1.7-1.7h0m2.1-1.4h0m2-1.3h0m0.1-2.4h0m0.2-2.4h0m0.1-2.4h0m0.2-2.3h0m1.6-1.8h0m1.6-1.9h0m1.7-1.8h0m2.2-1.6h0m2.3-1.6h0m2.3-1.7h0m2.4-1.6h0m2.4-1.6h0m1.4-1.4h0m1.4-1.4h0m1.2-2.4h0m1.3-2.5h0m1.3-2.4h0m1.6-1.4h0m1.6-1.3h0m1.7-1.4h0m2.5-1.2h0m2.5-1.1h0m2.6-1.2h0m7.3-40.8h0m11.7-6.5h0m19.1-72.4h0"/>
<line class="r" x1="1440.9" y1="1209.3" x2="1728.8" y2="1100.7"/>
</g>
<rect class="f" x="1443.3" y="936.3" width="279.2" height="279.2"/>
<line class="k" x1="1432.6" x2="1441.8" y1="1204.4" y2="1204.4"/>
<text class="u" text-anchor="end" x="1425.3" y="1216.3">0.0</text>
<line class="k" x1="1432.6" x2="1441.8" y1="1142.7" y2="1142.7"/>
<text class="u" text-anchor="end" x="1425.3" y="1154.6">2.5</text>
<line class="k" x1="1432.6" x2="1441.8" y1="1081" y2="1081"/>
<text class="u" text-anchor="end" x="1425.3" y="1092.9">5.0</text>
<line class="k" x1="1432.6" x2="1441.8" y1="1019.3" y2="1019.3"/>
<text class="u" text-anchor="end" x="1425.3" y="1031.2">7.5</text>
<line class="k" x1="1432.6" x2="1441.8" y1="957.6" y2="957.6"/>
<text class="u" text-anchor="end" x="1425.3" y="969.5">10.0</text>
<g clip-path="url(#q4)">
<path class="q" d="M1454.6 1504.8h0m2-1.4h0m1.9-1.5h0m2-1.4h0m2-1.4h0m2-1.4h0m2-1.4h0m2-1.5h0m2-1.4h0m2-1.4h0m1.9-1.4h0m2-1.5h0m2-1.4h0m2-1.4h0m2.1-1.4h0m2.1-1.5h0m2.1-1.4h0m2.1-1.5h0m2.1-1.4h0m2.1-1.5h0m2.1-1.4h0m2-1.5h0m2.1-1.4h0m2.1-1.4h0m2.1-1.5h0m2.1-1.4h0m2.1-1.5h0m2.1-1.5h0m2.1-1.4h0m2.1-1.5h0m2.1-1.5h0m2.1-1.5h0m2.1-1.5h0m2.1-1.5h0m2-1.5h0m2.1-1.4h0m2.1-1.5h0m2.1-1.5h0m2.1-1.5h0m2.1-1.5h0m2.1-1.4h0m2.1-1.4h0m2.1-1.4h0m2.1-1.4h0m2.1-1.4h0m2.1-1.4h0m2.1-1.4h0m2-1.4h0m2.1-1.4h0m2.1-1.4h0m2.1-1.4h0m2.1-1.4h0m2.1-1.4h0m2.1-1.3h0m2.1-1.2h0m2.2-1.3h0m2.1-1.3h0m2.1-1.3h0m2.1-1.2h0m2.1-1.3h0m2.1-1.3h0m2.1-1.2h0m2-1.9h0m1.9-1.9h0m1.9-1.9h0m1.9-1.9h0m1.9-2h0m2.7-0.9h0m2.7-0.9h0m2.7-0.9h0m2.3-0.4h0m2.3-0.5h0m2.2-0.4h0m1.4-2.3h0m1.4-2.3h0m1.3-2.2h0m2.4-1.1h0m2.4-1h0m2.4-1h0m2.3-1h0m0.9-2.3h0m0.9-2.2h0m1-2.3h0m1.6-1.6h0m1.6-1.7h0m1.6-1.6h0m1.7-1.6h0m1.6-1.7h0m1.6-1.6h0m1.7-1.6h0m1.6-1.7h0m1.6-1.6h0m1.7-1.6h0m1.1-2.1h0m1.2-2h0m1.1-2.1h0m1.2-2h0m1.8-1.6h0m1.8-1.7h0m1.8-1.6h0m1.8-1.6h0m1.8-1.7h0m2.7-0.9h0m2.7-0.9h0m2.7-0.9h0m1.5-1.7h0m1.5-1.7h0m1.5-1.7h0m1.5-1.7h0m6.3-21.2h0m8.7-1.9h0m11.1-21.8h0m19.1-52.5h0"/>
<line class="r" x1="1440.9" y1="1511.8" x2="1728.8" y2="1360.8"/>
</g>
<rect class="f" x="1443.3" y="1236.8" width="279.2" height="279.2"/>
<line class="k" x1="1432.6" x2="1441.8" y1="1504.9" y2="1504.9"/>
<text class="u" text-anchor="end" x="1425.3" y="1516.8">0</text>
<line class="k" x1="1432.6" x2="1441.8" y1="1436.3" y2="1436.3"/>
<text class="u" text-anchor="end" x="1425.3" y="1448.2">2</text>
<line class="k" x1="1432.6" x2="1441.8" y1="1367.7" y2="1367.7"/>
<text class="u" text-anchor="end" x="1425.3" y="1379.6">4</text>
<line class="k" x1="1432.6" x2="1441.8" y1="1299" y2="1299"/>
<text class="u" text-anchor="end" x="1425.3" y="1310.9">6</text>
<line class="k" x1="1454" x2="1454" y1="1517.5" y2="1527"/>
<text class="u" text-anchor="middle" x="1454" y="1556.8">0</text>
<line class="k" x1="1519.4" x2="1519.4" y1="1517.5" y2="1527"/>
<text class="u" text-anchor="middle" x="1519.4" y="1556.8">1</text>
<line class="k" x1="1584.9" x2="1584.9" y1="1517.5" y2="1527"/>
<text class="u" text-anchor="middle" x="1584.9" y="1556.8">2</text>
<line class="k" x1="1650.3" x2="1650.3" y1="1517.5" y2="1527"/>
<text class="u" text-anchor="middle" x="1650.3" y="1556.8">3</text>
<line class="k" x1="1715.7" x2="1715.7" y1="1517.5" y2="1527"/>
<text class="u" text-anchor="middle" x="1715.7" y="1556.8">4</text>
<text class="e" text-anchor="middle" x="1582.7" y="1601">–log<tspan font-size="25.5" dy="7.5">10</tspan><tspan dy="-7.5">(expected </tspan><tspan font-style="italic">p</tspan>)</text>
<text class="e" text-anchor="middle" transform="translate(1337.6 774.6) rotate(-90)">–log<tspan font-size="25.5" dy="7.5">10</tspan><tspan dy="-7.5">(observed </tspan><tspan font-style="italic">p</tspan>)</text>
</svg></body></html>
